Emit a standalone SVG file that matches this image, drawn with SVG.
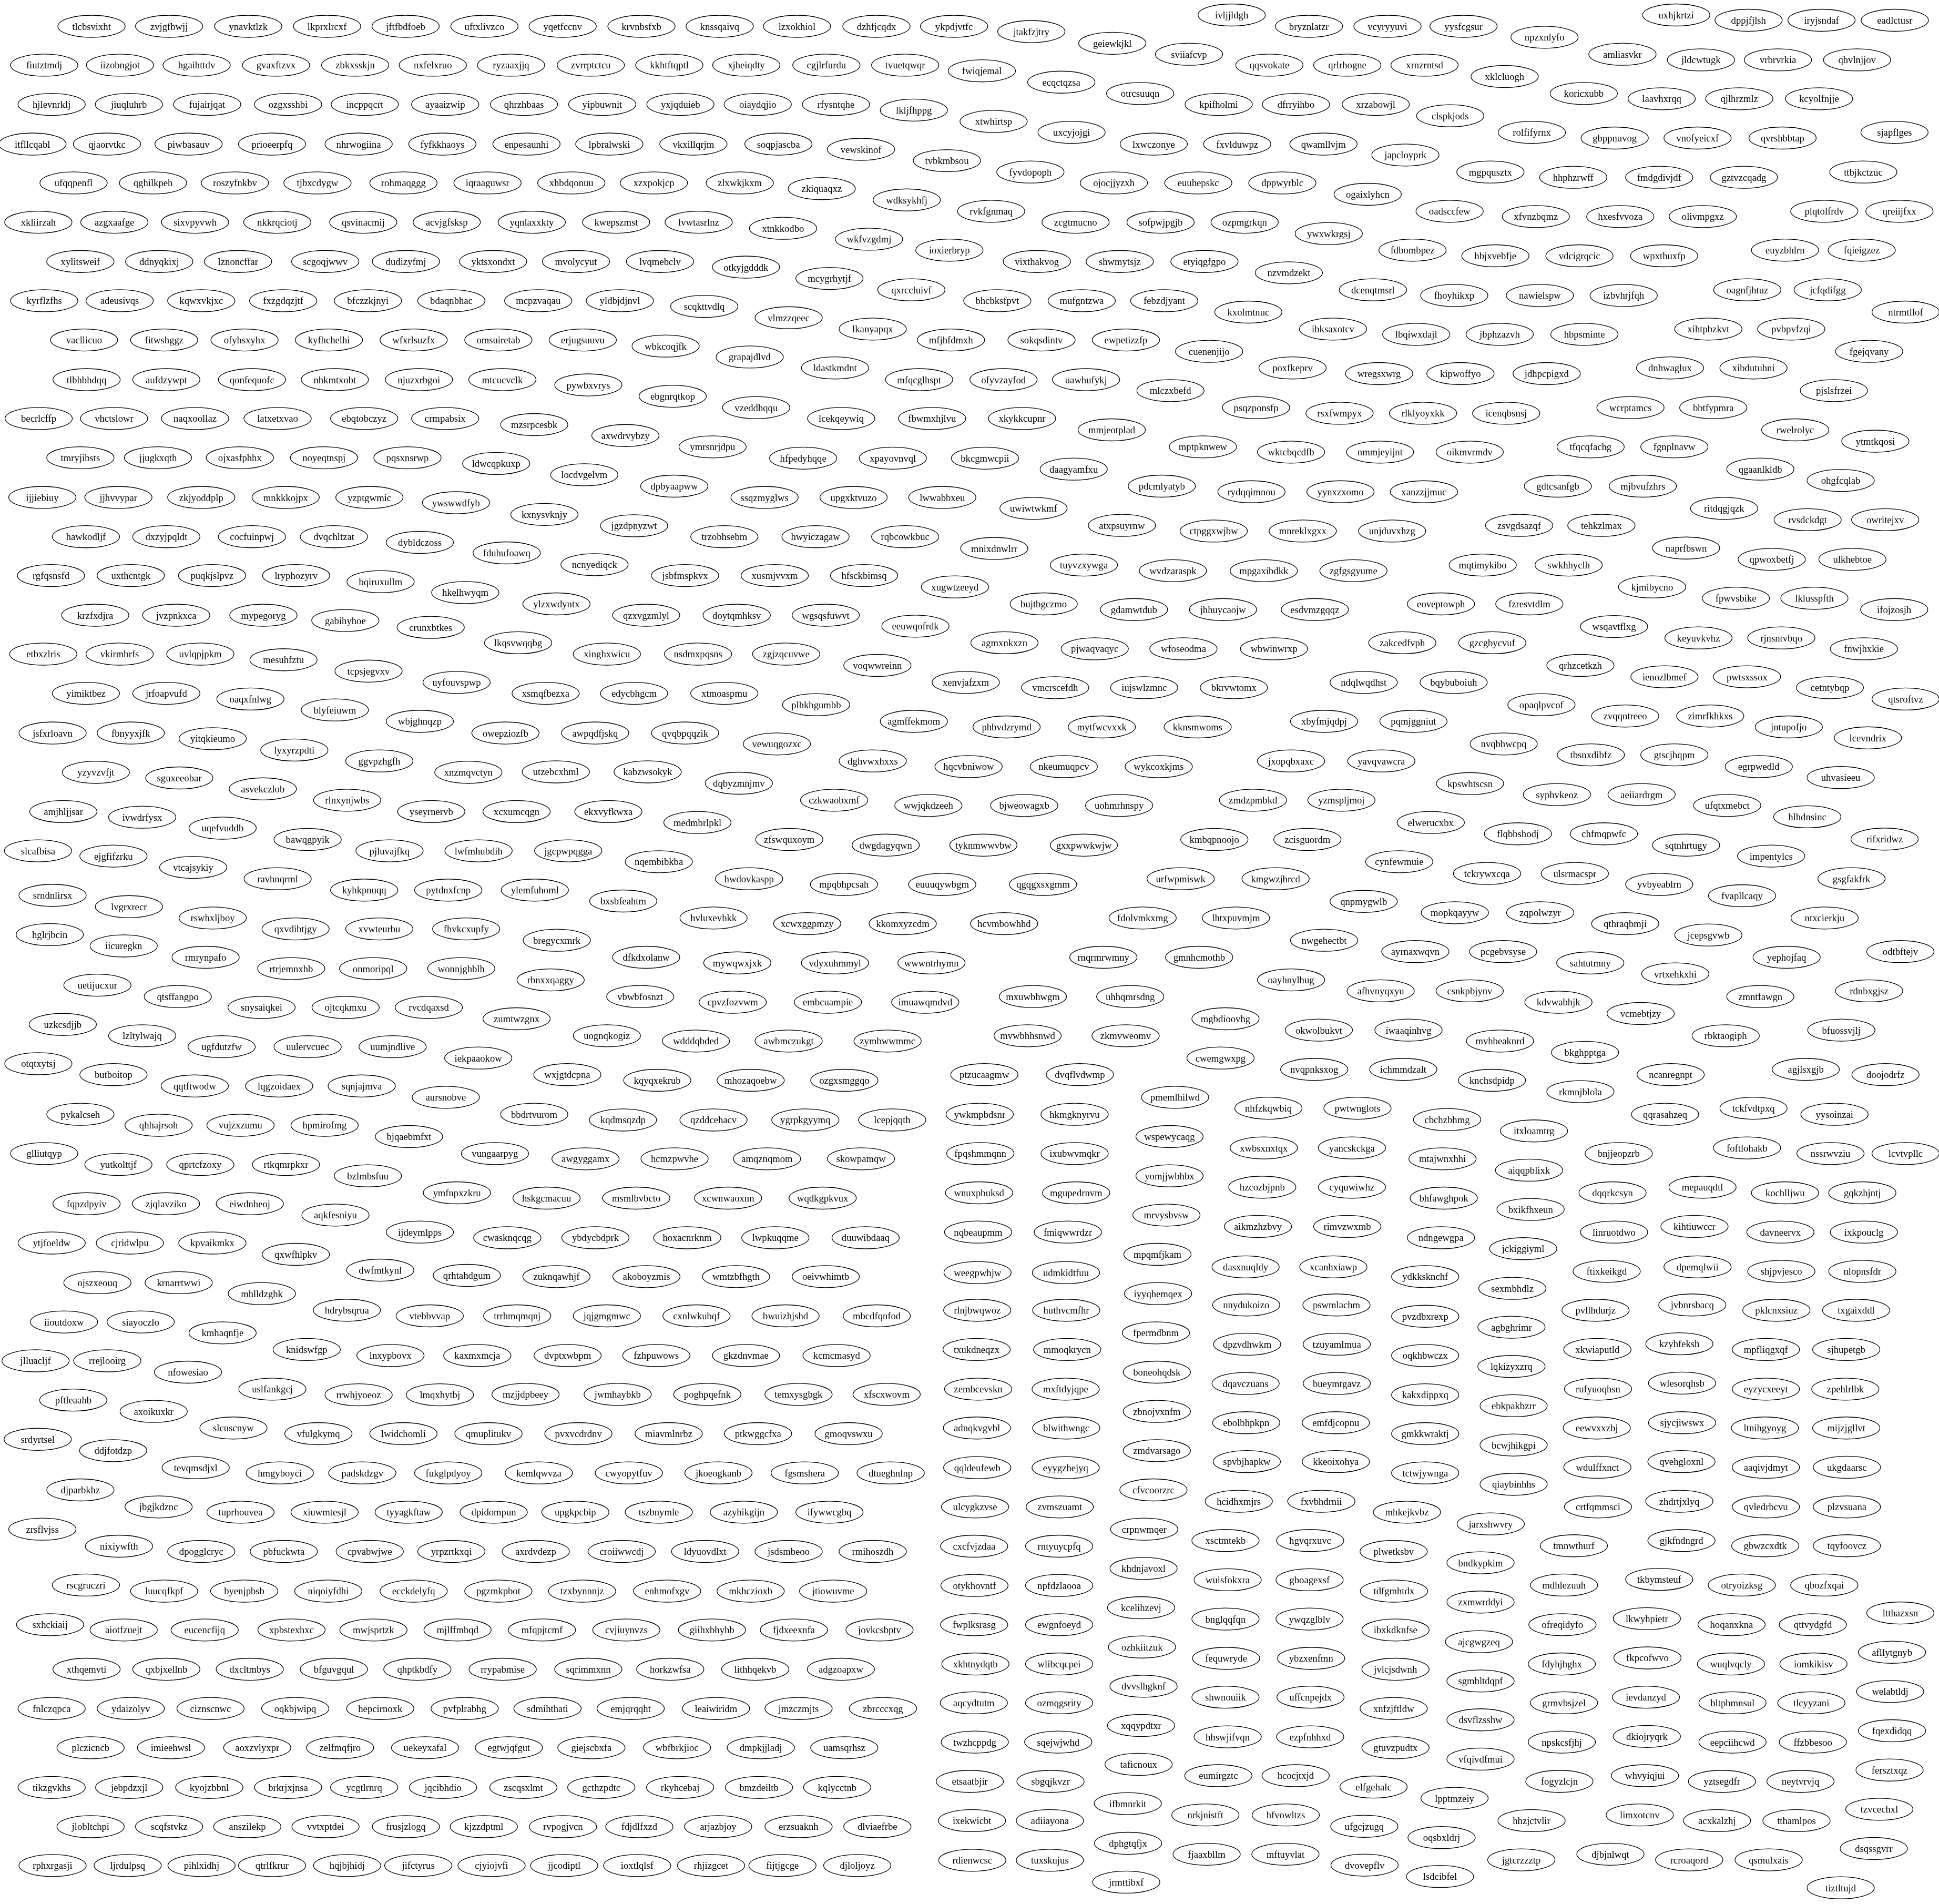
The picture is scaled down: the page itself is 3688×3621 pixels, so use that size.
<svg xmlns="http://www.w3.org/2000/svg" width="3688" height="3621" viewBox="0 0 3688 3621">
<style>
text{font-family:"Liberation Serif","Times New Roman",serif;font-size:18.67px;text-anchor:middle;dominant-baseline:central;fill:#000;transform:scale(1.7007,1.2991)}
</style>
<defs><ellipse id="e" rx="108.8" ry="27.3" fill="none" stroke="#000" stroke-width="1.33" vector-effect="non-scaling-stroke"/></defs>
<rect width="3688" height="3621" fill="#fff"/>
<g id="edges"/>
<g id="nodes" opacity="0.999">
<g id="blockA" transform="matrix(.58801 0 0 .76977 0 0)">
<g id="tlcbsvixht" transform="translate(296,65)"><use href="#e"/><text>tlcbsvixht</text></g>
<g id="zvjgfbwjj" transform="translate(547,65)"><use href="#e"/><text>zvjgfbwjj</text></g>
<g id="ynavktlzk" transform="translate(803,65)"><use href="#e"/><text>ynavktlzk</text></g>
<g id="lkprxlrcxf" transform="translate(1058,65)"><use href="#e"/><text>lkprxlrcxf</text></g>
<g id="jftfbdfoeb" transform="translate(1312,65)"><use href="#e"/><text>jftfbdfoeb</text></g>
<g id="fiutztmdj" transform="translate(143,161)"><use href="#e"/><text>fiutztmdj</text></g>
<g id="iizobngjot" transform="translate(388,161)"><use href="#e"/><text>iizobngjot</text></g>
<g id="hgaihttdv" transform="translate(636,161)"><use href="#e"/><text>hgaihttdv</text></g>
<g id="gvaxftzvx" transform="translate(893,161)"><use href="#e"/><text>gvaxftzvx</text></g>
<g id="zbkxsskjn" transform="translate(1149,161)"><use href="#e"/><text>zbkxsskjn</text></g>
<g id="nxfelxruo" transform="translate(1400,161)"><use href="#e"/><text>nxfelxruo</text></g>
<g id="hjlevnrklj" transform="translate(167,258)"><use href="#e"/><text>hjlevnrklj</text></g>
<g id="jiuqluhrb" transform="translate(417,258)"><use href="#e"/><text>jiuqluhrb</text></g>
<g id="fujairjqat" transform="translate(670,258)"><use href="#e"/><text>fujairjqat</text></g>
<g id="ozgxsshbi" transform="translate(932,258)"><use href="#e"/><text>ozgxsshbi</text></g>
<g id="incppqcrt" transform="translate(1180,258)"><use href="#e"/><text>incppqcrt</text></g>
<g id="ayaaizwip" transform="translate(1440,258)"><use href="#e"/><text>ayaaizwip</text></g>
<g id="itfllcqabl" transform="translate(105,356)"><use href="#e"/><text>itfllcqabl</text></g>
<g id="qjaorvtkc" transform="translate(346,356)"><use href="#e"/><text>qjaorvtkc</text></g>
<g id="piwbasauv" transform="translate(610,356)"><use href="#e"/><text>piwbasauv</text></g>
<g id="prioeerpfq" transform="translate(880,356)"><use href="#e"/><text>prioeerpfq</text></g>
<g id="nhrwogiina" transform="translate(1160,356)"><use href="#e"/><text>nhrwogiina</text></g>
<g id="fyfkkhaoys" transform="translate(1431,356)"><use href="#e"/><text>fyfkkhaoys</text></g>
<g id="ufqqpenfl" transform="translate(238,452)"><use href="#e"/><text>ufqqpenfl</text></g>
<g id="qghilkpeh" transform="translate(495,452)"><use href="#e"/><text>qghilkpeh</text></g>
<g id="roszyfnkbv" transform="translate(760,452)"><use href="#e"/><text>roszyfnkbv</text></g>
<g id="tjbxcdygw" transform="translate(1027,452)"><use href="#e"/><text>tjbxcdygw</text></g>
<g id="rohmaqggg" transform="translate(1305,452)"><use href="#e"/><text>rohmaqggg</text></g>
<g id="xkliirzah" transform="translate(124,549)"><use href="#e"/><text>xkliirzah</text></g>
<g id="azgxaafge" transform="translate(370,549)"><use href="#e"/><text>azgxaafge</text></g>
<g id="sixvpyvwh" transform="translate(631,549)"><use href="#e"/><text>sixvpyvwh</text></g>
<g id="nkkrqciotj" transform="translate(897,549)"><use href="#e"/><text>nkkrqciotj</text></g>
<g id="qsvinacmij" transform="translate(1175,549)"><use href="#e"/><text>qsvinacmij</text></g>
<g id="acvjgfsksp" transform="translate(1445,549)"><use href="#e"/><text>acvjgfsksp</text></g>
<g id="xylitsweif" transform="translate(260,646)"><use href="#e"/><text>xylitsweif</text></g>
<g id="ddnyqkixj" transform="translate(515,646)"><use href="#e"/><text>ddnyqkixj</text></g>
<g id="lznoncffar" transform="translate(770,646)"><use href="#e"/><text>lznoncffar</text></g>
<g id="scgoqjwwv" transform="translate(1052,646)"><use href="#e"/><text>scgoqjwwv</text></g>
<g id="dudizyfmj" transform="translate(1313,646)"><use href="#e"/><text>dudizyfmj</text></g>
<g id="kyrflzfhs" transform="translate(143,743)"><use href="#e"/><text>kyrflzfhs</text></g>
<g id="adeusivqs" transform="translate(387,743)"><use href="#e"/><text>adeusivqs</text></g>
<g id="kqwxvkjxc" transform="translate(651,743)"><use href="#e"/><text>kqwxvkjxc</text></g>
<g id="fxzgdqzjtf" transform="translate(916,743)"><use href="#e"/><text>fxzgdqzjtf</text></g>
<g id="bfczzkjnyi" transform="translate(1190,743)"><use href="#e"/><text>bfczzkjnyi</text></g>
<g id="bdaqnbhac" transform="translate(1460,743)"><use href="#e"/><text>bdaqnbhac</text></g>
<g id="vacllicuo" transform="translate(272,840)"><use href="#e"/><text>vacllicuo</text></g>
<g id="fitwshggz" transform="translate(531,840)"><use href="#e"/><text>fitwshggz</text></g>
<g id="ofyhsxyhx" transform="translate(791,840)"><use href="#e"/><text>ofyhsxyhx</text></g>
<g id="kyfhchelhi" transform="translate(1064,840)"><use href="#e"/><text>kyfhchelhi</text></g>
<g id="wfxrlsuzfx" transform="translate(1338,840)"><use href="#e"/><text>wfxrlsuzfx</text></g>
<g id="tlbhbhdqq" transform="translate(280,938)"><use href="#e"/><text>tlbhbhdqq</text></g>
<g id="aufdzywpt" transform="translate(538,938)"><use href="#e"/><text>aufdzywpt</text></g>
<g id="qonfequofc" transform="translate(815,938)"><use href="#e"/><text>qonfequofc</text></g>
<g id="nhkmtxobt" transform="translate(1083,938)"><use href="#e"/><text>nhkmtxobt</text></g>
<g id="njuzxrbgoi" transform="translate(1355,938)"><use href="#e"/><text>njuzxrbgoi</text></g>
<g id="becrlcffp" transform="translate(125,1034)"><use href="#e"/><text>becrlcffp</text></g>
<g id="vhctslowr" transform="translate(369,1034)"><use href="#e"/><text>vhctslowr</text></g>
<g id="naqxoollaz" transform="translate(631,1034)"><use href="#e"/><text>naqxoollaz</text></g>
<g id="latxetxvao" transform="translate(898,1034)"><use href="#e"/><text>latxetxvao</text></g>
<g id="ebqtobczyz" transform="translate(1178,1034)"><use href="#e"/><text>ebqtobczyz</text></g>
<g id="crmpabsix" transform="translate(1440,1034)"><use href="#e"/><text>crmpabsix</text></g>
<g id="tmryjibsts" transform="translate(260,1131)"><use href="#e"/><text>tmryjibsts</text></g>
<g id="jjugkxqth" transform="translate(511,1131)"><use href="#e"/><text>jjugkxqth</text></g>
<g id="ojxasfphhx" transform="translate(776,1131)"><use href="#e"/><text>ojxasfphhx</text></g>
<g id="noyeqtnspj" transform="translate(1048,1131)"><use href="#e"/><text>noyeqtnspj</text></g>
<g id="pqsxnsrwp" transform="translate(1318,1131)"><use href="#e"/><text>pqsxnsrwp</text></g>
<g id="ijjiebiuy" transform="translate(137,1229)"><use href="#e"/><text>ijjiebiuy</text></g>
<g id="jjhvvypar" transform="translate(383,1229)"><use href="#e"/><text>jjhvvypar</text></g>
<g id="zkjyoddplp" transform="translate(651,1229)"><use href="#e"/><text>zkjyoddplp</text></g>
<g id="mnkkkojpx" transform="translate(924,1229)"><use href="#e"/><text>mnkkkojpx</text></g>
<g id="yzptgwmic" transform="translate(1195,1229)"><use href="#e"/><text>yzptgwmic</text></g>
<g id="ywswwdfyb" transform="translate(1475,1242)"><use href="#e"/><text>ywswwdfyb</text></g>
<g id="hawkodljf" transform="translate(278,1326)"><use href="#e"/><text>hawkodljf</text></g>
<g id="dxzyjpqldt" transform="translate(538,1326)"><use href="#e"/><text>dxzyjpqldt</text></g>
<g id="cocfuinpwj" transform="translate(815,1326)"><use href="#e"/><text>cocfuinpwj</text></g>
<g id="dvqchltzat" transform="translate(1080,1326)"><use href="#e"/><text>dvqchltzat</text></g>
<g id="dybldczoss" transform="translate(1358,1340)"><use href="#e"/><text>dybldczoss</text></g>
<g id="rgfqsnsfd" transform="translate(165,1422)"><use href="#e"/><text>rgfqsnsfd</text></g>
<g id="uxthcntgk" transform="translate(423,1422)"><use href="#e"/><text>uxthcntgk</text></g>
<g id="puqkjslpvz" transform="translate(686,1422)"><use href="#e"/><text>puqkjslpvz</text></g>
<g id="lryphozyrv" transform="translate(958,1422)"><use href="#e"/><text>lryphozyrv</text></g>
<g id="bqiruxullm" transform="translate(1231,1437)"><use href="#e"/><text>bqiruxullm</text></g>
<g id="hkelhwyqm" transform="translate(1505,1464)"><use href="#e"/><text>hkelhwyqm</text></g>
<g id="krzfxdjra" transform="translate(308,1520)"><use href="#e"/><text>krzfxdjra</text></g>
<g id="jvzpnkxca" transform="translate(570,1520)"><use href="#e"/><text>jvzpnkxca</text></g>
<g id="mypegoryg" transform="translate(852,1520)"><use href="#e"/><text>mypegoryg</text></g>
<g id="gabihyhoe" transform="translate(1117,1533)"><use href="#e"/><text>gabihyhoe</text></g>
<g id="crunxbtkes" transform="translate(1393,1550)"><use href="#e"/><text>crunxbtkes</text></g>
</g>
<g id="blockB" transform="matrix(.58801 0 0 .76977 922 0)">
<g id="uftxlivzco" transform="translate(-1,65)"><use href="#e"/><text>uftxlivzco</text></g>
<g id="yqetfccnv" transform="translate(252,65)"><use href="#e"/><text>yqetfccnv</text></g>
<g id="krvnbsfxb" transform="translate(507,65)"><use href="#e"/><text>krvnbsfxb</text></g>
<g id="knssqaivq" transform="translate(760,65)"><use href="#e"/><text>knssqaivq</text></g>
<g id="lzxokhiol" transform="translate(1010,65)"><use href="#e"/><text>lzxokhiol</text></g>
<g id="dzhfjcqdx" transform="translate(1267,65)"><use href="#e"/><text>dzhfjcqdx</text></g>
<g id="ykpdjvtfc" transform="translate(1518,65)"><use href="#e"/><text>ykpdjvtfc</text></g>
<g id="ryzaaxjjq" transform="translate(85,161)"><use href="#e"/><text>ryzaaxjjq</text></g>
<g id="zvrrptctcu" transform="translate(343,161)"><use href="#e"/><text>zvrrptctcu</text></g>
<g id="kkhtftqptl" transform="translate(597,161)"><use href="#e"/><text>kkhtftqptl</text></g>
<g id="xjheiqdty" transform="translate(846,161)"><use href="#e"/><text>xjheiqdty</text></g>
<g id="cgjlrfurdu" transform="translate(1105,161)"><use href="#e"/><text>cgjlrfurdu</text></g>
<g id="tvuetqwqr" transform="translate(1360,161)"><use href="#e"/><text>tvuetqwqr</text></g>
<g id="qhrzhbaas" transform="translate(127,258)"><use href="#e"/><text>qhrzhbaas</text></g>
<g id="yipbuwnit" transform="translate(380,258)"><use href="#e"/><text>yipbuwnit</text></g>
<g id="yxjqduieb" transform="translate(633,258)"><use href="#e"/><text>yxjqduieb</text></g>
<g id="oiaydqjio" transform="translate(883,258)"><use href="#e"/><text>oiaydqjio</text></g>
<g id="rfysntqhe" transform="translate(1136,258)"><use href="#e"/><text>rfysntqhe</text></g>
<g id="lkljfhppg" transform="translate(1388,272)"><use href="#e"/><text>lkljfhppg</text></g>
<g id="enpesaunhi" transform="translate(135,356)"><use href="#e"/><text>enpesaunhi</text></g>
<g id="lpbralwski" transform="translate(403,356)"><use href="#e"/><text>lpbralwski</text></g>
<g id="vkxillqrjm" transform="translate(675,356)"><use href="#e"/><text>vkxillqrjm</text></g>
<g id="soqpjascba" transform="translate(950,356)"><use href="#e"/><text>soqpjascba</text></g>
<g id="vewskinof" transform="translate(1217,369)"><use href="#e"/><text>vewskinof</text></g>
<g id="tvbkmbsou" transform="translate(1495,397)"><use href="#e"/><text>tvbkmbsou</text></g>
<g id="iqraaguwsr" transform="translate(9,452)"><use href="#e"/><text>iqraaguwsr</text></g>
<g id="xhbdqonuu" transform="translate(280,452)"><use href="#e"/><text>xhbdqonuu</text></g>
<g id="xzxpokjcp" transform="translate(547,452)"><use href="#e"/><text>xzxpokjcp</text></g>
<g id="zlxwkjkxm" transform="translate(825,452)"><use href="#e"/><text>zlxwkjkxm</text></g>
<g id="zkiquaqxz" transform="translate(1090,466)"><use href="#e"/><text>zkiquaqxz</text></g>
<g id="wdksykhfj" transform="translate(1365,494)"><use href="#e"/><text>wdksykhfj</text></g>
<g id="yqnlaxxkty" transform="translate(152,549)"><use href="#e"/><text>yqnlaxxkty</text></g>
<g id="kwepszmst" transform="translate(425,549)"><use href="#e"/><text>kwepszmst</text></g>
<g id="lvwtasrlnz" transform="translate(692,549)"><use href="#e"/><text>lvwtasrlnz</text></g>
<g id="xtnkkodbo" transform="translate(965,564)"><use href="#e"/><text>xtnkkodbo</text></g>
<g id="wkfvzgdmj" transform="translate(1243,591)"><use href="#e"/><text>wkfvzgdmj</text></g>
<g id="ioxierbryp" transform="translate(1503,618)"><use href="#e"/><text>ioxierbryp</text></g>
<g id="yktsxondxt" transform="translate(27,646)"><use href="#e"/><text>yktsxondxt</text></g>
<g id="mvolycyut" transform="translate(295,646)"><use href="#e"/><text>mvolycyut</text></g>
<g id="lvqmebclv" transform="translate(567,646)"><use href="#e"/><text>lvqmebclv</text></g>
<g id="otkyjgdddk" transform="translate(845,660)"><use href="#e"/><text>otkyjgdddk</text></g>
<g id="mcygrhytjf" transform="translate(1115,688)"><use href="#e"/><text>mcygrhytjf</text></g>
<g id="qxrccluivf" transform="translate(1380,716)"><use href="#e"/><text>qxrccluivf</text></g>
<g id="mcpzvaqau" transform="translate(173,743)"><use href="#e"/><text>mcpzvaqau</text></g>
<g id="yldbjdjnvl" transform="translate(437,743)"><use href="#e"/><text>yldbjdjnvl</text></g>
<g id="scqkttvdlq" transform="translate(710,757)"><use href="#e"/><text>scqkttvdlq</text></g>
<g id="vlmzzqeec" transform="translate(983,785)"><use href="#e"/><text>vlmzzqeec</text></g>
<g id="lkanyapqx" transform="translate(1255,813)"><use href="#e"/><text>lkanyapqx</text></g>
<g id="mfjhfdmxh" transform="translate(1508,840)"><use href="#e"/><text>mfjhfdmxh</text></g>
<g id="omsuiretab" transform="translate(44,840)"><use href="#e"/><text>omsuiretab</text></g>
<g id="erjugsuuvu" transform="translate(317,840)"><use href="#e"/><text>erjugsuuvu</text></g>
<g id="wbkcoqjfk" transform="translate(585,855)"><use href="#e"/><text>wbkcoqjfk</text></g>
<g id="grapajdlvd" transform="translate(857,882)"><use href="#e"/><text>grapajdlvd</text></g>
<g id="ldastkmdnt" transform="translate(1133,909)"><use href="#e"/><text>ldastkmdnt</text></g>
<g id="mfqcglhspt" transform="translate(1405,938)"><use href="#e"/><text>mfqcglhspt</text></g>
<g id="mtcucvclk" transform="translate(57,938)"><use href="#e"/><text>mtcucvclk</text></g>
<g id="pywbxvrys" transform="translate(335,951)"><use href="#e"/><text>pywbxvrys</text></g>
<g id="ebgnrqtkop" transform="translate(608,979)"><use href="#e"/><text>ebgnrqtkop</text></g>
<g id="vzeddhqqu" transform="translate(878,1007)"><use href="#e"/><text>vzeddhqqu</text></g>
<g id="lcekqeywiq" transform="translate(1153,1034)"><use href="#e"/><text>lcekqeywiq</text></g>
<g id="fbwmxhjlvu" transform="translate(1447,1034)"><use href="#e"/><text>fbwmxhjlvu</text></g>
<g id="mzsrpcesbk" transform="translate(160,1049)"><use href="#e"/><text>mzsrpcesbk</text></g>
<g id="axwdrvybzy" transform="translate(455,1076)"><use href="#e"/><text>axwdrvybzy</text></g>
<g id="ymrsnrjdpu" transform="translate(737,1104)"><use href="#e"/><text>ymrsnrjdpu</text></g>
<g id="hfpedyhqqe" transform="translate(1030,1132)"><use href="#e"/><text>hfpedyhqqe</text></g>
<g id="xpayovnvql" transform="translate(1320,1132)"><use href="#e"/><text>xpayovnvql</text></g>
<g id="ldwcqpkuxp" transform="translate(37,1145)"><use href="#e"/><text>ldwcqpkuxp</text></g>
<g id="locdvgelvm" transform="translate(322,1173)"><use href="#e"/><text>locdvgelvm</text></g>
<g id="dpbyaapww" transform="translate(613,1201)"><use href="#e"/><text>dpbyaapww</text></g>
<g id="ssqzmyglws" transform="translate(905,1229)"><use href="#e"/><text>ssqzmyglws</text></g>
<g id="upgxktvuzo" transform="translate(1193,1229)"><use href="#e"/><text>upgxktvuzo</text></g>
<g id="lwwabbxeu" transform="translate(1480,1229)"><use href="#e"/><text>lwwabbxeu</text></g>
<g id="kxnysvknjy" transform="translate(193,1271)"><use href="#e"/><text>kxnysvknjy</text></g>
<g id="jgzdpnyzwt" transform="translate(483,1299)"><use href="#e"/><text>jgzdpnyzwt</text></g>
<g id="trzobhsebm" transform="translate(775,1326)"><use href="#e"/><text>trzobhsebm</text></g>
<g id="hwyiczagaw" transform="translate(1070,1326)"><use href="#e"/><text>hwyiczagaw</text></g>
<g id="rqbcowkbuc" transform="translate(1360,1326)"><use href="#e"/><text>rqbcowkbuc</text></g>
<g id="fduhufoawq" transform="translate(71,1366)"><use href="#e"/><text>fduhufoawq</text></g>
<g id="ncnyediqck" transform="translate(355,1395)"><use href="#e"/><text>ncnyediqck</text></g>
<g id="jsbfmspkvx" transform="translate(648,1422)"><use href="#e"/><text>jsbfmspkvx</text></g>
<g id="xusmjvvxm" transform="translate(938,1422)"><use href="#e"/><text>xusmjvvxm</text></g>
<g id="hfsckbimsq" transform="translate(1227,1422)"><use href="#e"/><text>hfsckbimsq</text></g>
<g id="xugwtzeeyd" transform="translate(1521,1450)"><use href="#e"/><text>xugwtzeeyd</text></g>
<g id="ylzxwdyntx" transform="translate(232,1492)"><use href="#e"/><text>ylzxwdyntx</text></g>
<g id="qzxvgzmlyl" transform="translate(522,1520)"><use href="#e"/><text>qzxvgzmlyl</text></g>
<g id="doytqmhksv" transform="translate(815,1520)"><use href="#e"/><text>doytqmhksv</text></g>
<g id="wgsqsfuwvt" transform="translate(1103,1520)"><use href="#e"/><text>wgsqsfuwvt</text></g>
<g id="eeuwqofrdk" transform="translate(1393,1547)"><use href="#e"/><text>eeuwqofrdk</text></g>
</g>
<g id="blockC" transform="matrix(.58801 0 0 .76977 1844 0)">
<g id="jtakfzjtry" transform="translate(200,78)"><use href="#e"/><text>jtakfzjtry</text></g>
<g id="geiewkjkl" transform="translate(462,107)"><use href="#e"/><text>geiewkjkl</text></g>
<g id="sviiafcvp" transform="translate(710,134)"><use href="#e"/><text>sviiafcvp</text></g>
<g id="ivljjldgh" transform="translate(848,37)"><use href="#e"/><text>ivljjldgh</text></g>
<g id="bryznlatzr" transform="translate(1098,65)"><use href="#e"/><text>bryznlatzr</text></g>
<g id="vcyryyuvi" transform="translate(1352,65)"><use href="#e"/><text>vcyryyuvi</text></g>
<g id="fwiqjemal" transform="translate(40,175)"><use href="#e"/><text>fwiqjemal</text></g>
<g id="ecqctqzsa" transform="translate(297,203)"><use href="#e"/><text>ecqctqzsa</text></g>
<g id="otrcsuuqn" transform="translate(552,231)"><use href="#e"/><text>otrcsuuqn</text></g>
<g id="qqsvokate" transform="translate(970,161)"><use href="#e"/><text>qqsvokate</text></g>
<g id="qrlrhogne" transform="translate(1222,161)"><use href="#e"/><text>qrlrhogne</text></g>
<g id="xrnzrntsd" transform="translate(1472,161)"><use href="#e"/><text>xrnzrntsd</text></g>
<g id="xtwhirtsp" transform="translate(78,300)"><use href="#e"/><text>xtwhirtsp</text></g>
<g id="uxcyjojgi" transform="translate(330,327)"><use href="#e"/><text>uxcyjojgi</text></g>
<g id="kpifholmi" transform="translate(806,258)"><use href="#e"/><text>kpifholmi</text></g>
<g id="dfrryihbo" transform="translate(1056,258)"><use href="#e"/><text>dfrryihbo</text></g>
<g id="xrzabowjl" transform="translate(1314,258)"><use href="#e"/><text>xrzabowjl</text></g>
<g id="clspkjods" transform="translate(1555,286)"><use href="#e"/><text>clspkjods</text></g>
<g id="lxwczonye" transform="translate(596,356)"><use href="#e"/><text>lxwczonye</text></g>
<g id="fxvlduwpz" transform="translate(866,356)"><use href="#e"/><text>fxvlduwpz</text></g>
<g id="qwamllvjm" transform="translate(1145,356)"><use href="#e"/><text>qwamllvjm</text></g>
<g id="japcloyprk" transform="translate(1410,383)"><use href="#e"/><text>japcloyprk</text></g>
<g id="fyvdopoph" transform="translate(197,425)"><use href="#e"/><text>fyvdopoph</text></g>
<g id="ojocjjyzxh" transform="translate(467,452)"><use href="#e"/><text>ojocjjyzxh</text></g>
<g id="euuhepskc" transform="translate(740,452)"><use href="#e"/><text>euuhepskc</text></g>
<g id="dppwyrblc" transform="translate(1012,452)"><use href="#e"/><text>dppwyrblc</text></g>
<g id="ogaixlyhcn" transform="translate(1288,480)"><use href="#e"/><text>ogaixlyhcn</text></g>
<g id="rvkfgnmaq" transform="translate(70,522)"><use href="#e"/><text>rvkfgnmaq</text></g>
<g id="zcgtmucno" transform="translate(343,549)"><use href="#e"/><text>zcgtmucno</text></g>
<g id="sofpwjpgjb" transform="translate(618,549)"><use href="#e"/><text>sofpwjpgjb</text></g>
<g id="ozpmgrkqn" transform="translate(890,549)"><use href="#e"/><text>ozpmgrkqn</text></g>
<g id="ywxwkrgsj" transform="translate(1162,577)"><use href="#e"/><text>ywxwkrgsj</text></g>
<g id="oadsccfew" transform="translate(1553,522)"><use href="#e"/><text>oadsccfew</text></g>
<g id="vixthakvog" transform="translate(218,646)"><use href="#e"/><text>vixthakvog</text></g>
<g id="shwmytsjz" transform="translate(486,646)"><use href="#e"/><text>shwmytsjz</text></g>
<g id="etyiqgfgpo" transform="translate(760,646)"><use href="#e"/><text>etyiqgfgpo</text></g>
<g id="nzvmdzekt" transform="translate(1033,674)"><use href="#e"/><text>nzvmdzekt</text></g>
<g id="fdbombpez" transform="translate(1433,618)"><use href="#e"/><text>fdbombpez</text></g>
<g id="bhcbksfpvt" transform="translate(90,743)"><use href="#e"/><text>bhcbksfpvt</text></g>
<g id="mufgntzwa" transform="translate(363,743)"><use href="#e"/><text>mufgntzwa</text></g>
<g id="febzdjyant" transform="translate(630,743)"><use href="#e"/><text>febzdjyant</text></g>
<g id="kxolmtnuc" transform="translate(902,771)"><use href="#e"/><text>kxolmtnuc</text></g>
<g id="dcenqtmsrl" transform="translate(1305,716)"><use href="#e"/><text>dcenqtmsrl</text></g>
<g id="sokqsdintv" transform="translate(233,840)"><use href="#e"/><text>sokqsdintv</text></g>
<g id="ewpetizzfp" transform="translate(506,840)"><use href="#e"/><text>ewpetizzfp</text></g>
<g id="cuenenjijo" transform="translate(775,868)"><use href="#e"/><text>cuenenjijo</text></g>
<g id="ibksaxotcv" transform="translate(1176,813)"><use href="#e"/><text>ibksaxotcv</text></g>
<g id="lbqiwxdajl" transform="translate(1445,826)"><use href="#e"/><text>lbqiwxdajl</text></g>
<g id="ofyvzayfod" transform="translate(110,938)"><use href="#e"/><text>ofyvzayfod</text></g>
<g id="uawhufykj" transform="translate(377,938)"><use href="#e"/><text>uawhufykj</text></g>
<g id="mlczxbefd" transform="translate(650,965)"><use href="#e"/><text>mlczxbefd</text></g>
<g id="poxfkeprv" transform="translate(1045,909)"><use href="#e"/><text>poxfkeprv</text></g>
<g id="wregsxwrg" transform="translate(1325,923)"><use href="#e"/><text>wregsxwrg</text></g>
<g id="xkykkcupnr" transform="translate(170,1034)"><use href="#e"/><text>xkykkcupnr</text></g>
<g id="mmjeotplad" transform="translate(460,1062)"><use href="#e"/><text>mmjeotplad</text></g>
<g id="psqzponsfp" transform="translate(927,1007)"><use href="#e"/><text>psqzponsfp</text></g>
<g id="rsxfwmpyx" transform="translate(1197,1021)"><use href="#e"/><text>rsxfwmpyx</text></g>
<g id="rlklyoyxkk" transform="translate(1467,1021)"><use href="#e"/><text>rlklyoyxkk</text></g>
<g id="bkcgmwcpii" transform="translate(50,1132)"><use href="#e"/><text>bkcgmwcpii</text></g>
<g id="daagyamfxu" transform="translate(337,1159)"><use href="#e"/><text>daagyamfxu</text></g>
<g id="mptpknwew" transform="translate(755,1104)"><use href="#e"/><text>mptpknwew</text></g>
<g id="wktcbqcdfb" transform="translate(1040,1117)"><use href="#e"/><text>wktcbqcdfb</text></g>
<g id="nmmjeyijnt" transform="translate(1328,1117)"><use href="#e"/><text>nmmjeyijnt</text></g>
<g id="uwiwtwkmf" transform="translate(207,1256)"><use href="#e"/><text>uwiwtwkmf</text></g>
<g id="pdcmlyatyb" transform="translate(622,1201)"><use href="#e"/><text>pdcmlyatyb</text></g>
<g id="rydqqimnou" transform="translate(912,1215)"><use href="#e"/><text>rydqqimnou</text></g>
<g id="yynxzxomo" transform="translate(1200,1215)"><use href="#e"/><text>yynxzxomo</text></g>
<g id="xanzzjjmuc" transform="translate(1470,1215)"><use href="#e"/><text>xanzzjjmuc</text></g>
<g id="mnixdnwlrr" transform="translate(80,1355)"><use href="#e"/><text>mnixdnwlrr</text></g>
<g id="atxpsuyrnw" transform="translate(493,1298)"><use href="#e"/><text>atxpsuyrnw</text></g>
<g id="ctpggxwjbw" transform="translate(790,1312)"><use href="#e"/><text>ctpggxwjbw</text></g>
<g id="mnreklxgxx" transform="translate(1078,1312)"><use href="#e"/><text>mnreklxgxx</text></g>
<g id="unjduvxhzg" transform="translate(1367,1312)"><use href="#e"/><text>unjduvxhzg</text></g>
<g id="tuyvzxywga" transform="translate(370,1396)"><use href="#e"/><text>tuyvzxywga</text></g>
<g id="wvdzaraspk" transform="translate(658,1410)"><use href="#e"/><text>wvdzaraspk</text></g>
<g id="mpgaxibdkk" transform="translate(952,1410)"><use href="#e"/><text>mpgaxibdkk</text></g>
<g id="zgfgsgyume" transform="translate(1242,1410)"><use href="#e"/><text>zgfgsgyume</text></g>
<g id="bujtbgczmo" transform="translate(240,1492)"><use href="#e"/><text>bujtbgczmo</text></g>
<g id="gdamwtdub" transform="translate(532,1506)"><use href="#e"/><text>gdamwtdub</text></g>
<g id="jhhuycaojw" transform="translate(820,1506)"><use href="#e"/><text>jhhuycaojw</text></g>
<g id="esdvmzgqqz" transform="translate(1117,1506)"><use href="#e"/><text>esdvmzgqqz</text></g>
<g id="eoveptowph" transform="translate(1525,1492)"><use href="#e"/><text>eoveptowph</text></g>
</g>
<g id="blockD" transform="matrix(.58801 0 0 .76977 2766 0)">
<g id="yysfcgsur" transform="translate(30,65)"><use href="#e"/><text>yysfcgsur</text></g>
<g id="npzxnlyfo" transform="translate(292,92)"><use href="#e"/><text>npzxnlyfo</text></g>
<g id="amliasvkr" transform="translate(544,134)"><use href="#e"/><text>amliasvkr</text></g>
<g id="uxhjkrtzi" transform="translate(718,37)"><use href="#e"/><text>uxhjkrtzi</text></g>
<g id="dppjfjlsh" transform="translate(952,50)"><use href="#e"/><text>dppjfjlsh</text></g>
<g id="iryjsndaf" transform="translate(1188,50)"><use href="#e"/><text>iryjsndaf</text></g>
<g id="eadlctusr" transform="translate(1425,50)"><use href="#e"/><text>eadlctusr</text></g>
<g id="xklcluogh" transform="translate(163,189)"><use href="#e"/><text>xklcluogh</text></g>
<g id="koricxubb" transform="translate(419,231)"><use href="#e"/><text>koricxubb</text></g>
<g id="jldcwtugk" transform="translate(798,148)"><use href="#e"/><text>jldcwtugk</text></g>
<g id="vrbrvrkia" transform="translate(1047,148)"><use href="#e"/><text>vrbrvrkia</text></g>
<g id="qhvlnjjov" transform="translate(1303,148)"><use href="#e"/><text>qhvlnjjov</text></g>
<g id="laavhxrqq" transform="translate(671,244)"><use href="#e"/><text>laavhxrqq</text></g>
<g id="qjlhrzmlz" transform="translate(922,244)"><use href="#e"/><text>qjlhrzmlz</text></g>
<g id="kcyolfnjje" transform="translate(1180,244)"><use href="#e"/><text>kcyolfnjje</text></g>
<g id="rolfifyrnx" transform="translate(251,327)"><use href="#e"/><text>rolfifyrnx</text></g>
<g id="gbppnuvog" transform="translate(519,341)"><use href="#e"/><text>gbppnuvog</text></g>
<g id="vnofyeicxf" transform="translate(787,341)"><use href="#e"/><text>vnofyeicxf</text></g>
<g id="qvrshbbtap" transform="translate(1062,341)"><use href="#e"/><text>qvrshbbtap</text></g>
<g id="sjapflges" transform="translate(1424,327)"><use href="#e"/><text>sjapflges</text></g>
<g id="mgpqusztx" transform="translate(117,425)"><use href="#e"/><text>mgpqusztx</text></g>
<g id="hhphzrwff" transform="translate(385,438)"><use href="#e"/><text>hhphzrwff</text></g>
<g id="fmdgdivjdf" transform="translate(663,438)"><use href="#e"/><text>fmdgdivjdf</text></g>
<g id="gztvzcqadg" transform="translate(937,438)"><use href="#e"/><text>gztvzcqadg</text></g>
<g id="ttbjkctzuc" transform="translate(1323,425)"><use href="#e"/><text>ttbjkctzuc</text></g>
<g id="xfvnzbqmz" transform="translate(264,535)"><use href="#e"/><text>xfvnzbqmz</text></g>
<g id="hxesfvvoza" transform="translate(537,535)"><use href="#e"/><text>hxesfvvoza</text></g>
<g id="olivmpgxz" transform="translate(804,535)"><use href="#e"/><text>olivmpgxz</text></g>
<g id="plqtolfrdv" transform="translate(1197,522)"><use href="#e"/><text>plqtolfrdv</text></g>
<g id="qreiijfxx" transform="translate(1440,522)"><use href="#e"/><text>qreiijfxx</text></g>
<g id="hbjxvebfje" transform="translate(133,632)"><use href="#e"/><text>hbjxvebfje</text></g>
<g id="vdcigrqcic" transform="translate(405,632)"><use href="#e"/><text>vdcigrqcic</text></g>
<g id="wpxthuxfp" transform="translate(679,632)"><use href="#e"/><text>wpxthuxfp</text></g>
<g id="euyzbhlrn" transform="translate(1070,618)"><use href="#e"/><text>euyzbhlrn</text></g>
<g id="fqieigzez" transform="translate(1318,618)"><use href="#e"/><text>fqieigzez</text></g>
<g id="fhoyhikxp" transform="translate(0,730)"><use href="#e"/><text>fhoyhikxp</text></g>
<g id="nawielspw" transform="translate(277,730)"><use href="#e"/><text>nawielspw</text></g>
<g id="izbvhrjfqh" transform="translate(548,730)"><use href="#e"/><text>izbvhrjfqh</text></g>
<g id="oagnfjhtuz" transform="translate(948,716)"><use href="#e"/><text>oagnfjhtuz</text></g>
<g id="jcfqdifgg" transform="translate(1208,716)"><use href="#e"/><text>jcfqdifgg</text></g>
<g id="ntrmtllof" transform="translate(1460,771)"><use href="#e"/><text>ntrmtllof</text></g>
<g id="jbphzazvh" transform="translate(147,826)"><use href="#e"/><text>jbphzazvh</text></g>
<g id="hbpsminte" transform="translate(421,826)"><use href="#e"/><text>hbpsminte</text></g>
<g id="xihtpbzkvt" transform="translate(822,813)"><use href="#e"/><text>xihtpbzkvt</text></g>
<g id="pvbpvfzqi" transform="translate(1090,813)"><use href="#e"/><text>pvbpvfzqi</text></g>
<g id="fgejqvany" transform="translate(1342,868)"><use href="#e"/><text>fgejqvany</text></g>
<g id="kipwoffyo" transform="translate(20,923)"><use href="#e"/><text>kipwoffyo</text></g>
<g id="jdhpcpigxd" transform="translate(299,923)"><use href="#e"/><text>jdhpcpigxd</text></g>
<g id="dnhwaglux" transform="translate(698,909)"><use href="#e"/><text>dnhwaglux</text></g>
<g id="xibdutuhni" transform="translate(968,909)"><use href="#e"/><text>xibdutuhni</text></g>
<g id="pjslsfrzei" transform="translate(1228,965)"><use href="#e"/><text>pjslsfrzei</text></g>
<g id="icenqbsnsj" transform="translate(168,1021)"><use href="#e"/><text>icenqbsnsj</text></g>
<g id="wcrptamcs" transform="translate(570,1007)"><use href="#e"/><text>wcrptamcs</text></g>
<g id="bbtfypmra" transform="translate(838,1007)"><use href="#e"/><text>bbtfypmra</text></g>
<g id="rwelrolyc" transform="translate(1103,1062)"><use href="#e"/><text>rwelrolyc</text></g>
<g id="ytmtkqosi" transform="translate(1362,1090)"><use href="#e"/><text>ytmtkqosi</text></g>
<g id="oikmvrmdv" transform="translate(50,1117)"><use href="#e"/><text>oikmvrmdv</text></g>
<g id="tfqcqfachg" transform="translate(441,1104)"><use href="#e"/><text>tfqcqfachg</text></g>
<g id="fgnplnavw" transform="translate(712,1104)"><use href="#e"/><text>fgnplnavw</text></g>
<g id="qgaanlkldb" transform="translate(990,1159)"><use href="#e"/><text>qgaanlkldb</text></g>
<g id="ohgfcqlab" transform="translate(1250,1187)"><use href="#e"/><text>ohgfcqlab</text></g>
<g id="gdtcsanfgb" transform="translate(335,1201)"><use href="#e"/><text>gdtcsanfgb</text></g>
<g id="mjbvufzhrs" transform="translate(610,1201)"><use href="#e"/><text>mjbvufzhrs</text></g>
<g id="ritdqgjqzk" transform="translate(873,1256)"><use href="#e"/><text>ritdqgjqzk</text></g>
<g id="rvsdckdgt" transform="translate(1143,1284)"><use href="#e"/><text>rvsdckdgt</text></g>
<g id="owritejxv" transform="translate(1394,1284)"><use href="#e"/><text>owritejxv</text></g>
<g id="zsvgdsazqf" transform="translate(210,1298)"><use href="#e"/><text>zsvgdsazqf</text></g>
<g id="tehkzlmax" transform="translate(476,1298)"><use href="#e"/><text>tehkzlmax</text></g>
<g id="naprfbswn" transform="translate(750,1354)"><use href="#e"/><text>naprfbswn</text></g>
<g id="qpwoxbetfj" transform="translate(1027,1382)"><use href="#e"/><text>qpwoxbetfj</text></g>
<g id="ulkhebtoe" transform="translate(1288,1382)"><use href="#e"/><text>ulkhebtoe</text></g>
<g id="mqtimykibo" transform="translate(92,1396)"><use href="#e"/><text>mqtimykibo</text></g>
<g id="swkhhyclh" transform="translate(370,1396)"><use href="#e"/><text>swkhhyclh</text></g>
<g id="kjmibycno" transform="translate(640,1450)"><use href="#e"/><text>kjmibycno</text></g>
<g id="fpwvsbike" transform="translate(911,1478)"><use href="#e"/><text>fpwvsbike</text></g>
<g id="lklusspfth" transform="translate(1165,1478)"><use href="#e"/><text>lklusspfth</text></g>
<g id="ifojzosjh" transform="translate(1423,1506)"><use href="#e"/><text>ifojzosjh</text></g>
<g id="fzresvtdlm" transform="translate(243,1492)"><use href="#e"/><text>fzresvtdlm</text></g>
<g id="wsqavtflxg" transform="translate(517,1548)"><use href="#e"/><text>wsqavtflxg</text></g>
</g>
<g id="blockE" transform="matrix(.58801 0 0 .76977 0 1207)">
<g id="etbxzlris" transform="translate(140,48)"><use href="#e"/><text>etbxzlris</text></g>
<g id="vkirmbrfs" transform="translate(387,48)"><use href="#e"/><text>vkirmbrfs</text></g>
<g id="uvlqpjpkm" transform="translate(648,48)"><use href="#e"/><text>uvlqpjpkm</text></g>
<g id="mesuhfztu" transform="translate(917,62)"><use href="#e"/><text>mesuhfztu</text></g>
<g id="tcpsjegvxv" transform="translate(1192,90)"><use href="#e"/><text>tcpsjegvxv</text></g>
<g id="uyfouvspwp" transform="translate(1477,118)"><use href="#e"/><text>uyfouvspwp</text></g>
<g id="yimiktbez" transform="translate(278,145)"><use href="#e"/><text>yimiktbez</text></g>
<g id="jrfoapvufd" transform="translate(538,145)"><use href="#e"/><text>jrfoapvufd</text></g>
<g id="oaqxfnlwg" transform="translate(810,159)"><use href="#e"/><text>oaqxfnlwg</text></g>
<g id="blyfeiuwm" transform="translate(1083,186)"><use href="#e"/><text>blyfeiuwm</text></g>
<g id="wbjghnqzp" transform="translate(1358,214)"><use href="#e"/><text>wbjghnqzp</text></g>
<g id="jsfxrloavn" transform="translate(170,243)"><use href="#e"/><text>jsfxrloavn</text></g>
<g id="fbnyyxjfk" transform="translate(423,243)"><use href="#e"/><text>fbnyyxjfk</text></g>
<g id="yitqkieumo" transform="translate(688,257)"><use href="#e"/><text>yitqkieumo</text></g>
<g id="lyxyrzpdti" transform="translate(952,285)"><use href="#e"/><text>lyxyrzpdti</text></g>
<g id="ggvpzhgfh" transform="translate(1227,312)"><use href="#e"/><text>ggvpzhgfh</text></g>
<g id="xnzmqvctyn" transform="translate(1515,340)"><use href="#e"/><text>xnzmqvctyn</text></g>
<g id="yzyvzvfjt" transform="translate(310,340)"><use href="#e"/><text>yzyvzvfjt</text></g>
<g id="sguxeeobar" transform="translate(580,354)"><use href="#e"/><text>sguxeeobar</text></g>
<g id="asvekczlob" transform="translate(850,381)"><use href="#e"/><text>asvekczlob</text></g>
<g id="rlnxynjwbs" transform="translate(1123,409)"><use href="#e"/><text>rlnxynjwbs</text></g>
<g id="yseyrnervb" transform="translate(1395,437)"><use href="#e"/><text>yseyrnervb</text></g>
<g id="amjhljjsar" transform="translate(205,437)"><use href="#e"/><text>amjhljjsar</text></g>
<g id="ivwdrfysx" transform="translate(460,451)"><use href="#e"/><text>ivwdrfysx</text></g>
<g id="uqefvuddb" transform="translate(720,478)"><use href="#e"/><text>uqefvuddb</text></g>
<g id="bawqgpyik" transform="translate(995,506)"><use href="#e"/><text>bawqgpyik</text></g>
<g id="pjluvajfkq" transform="translate(1260,534)"><use href="#e"/><text>pjluvajfkq</text></g>
<g id="lwfmhubdih" transform="translate(1548,534)"><use href="#e"/><text>lwfmhubdih</text></g>
<g id="slcafbisa" transform="translate(123,534)"><use href="#e"/><text>slcafbisa</text></g>
<g id="ejgfifzrku" transform="translate(367,547)"><use href="#e"/><text>ejgfifzrku</text></g>
<g id="vtcajsykiy" transform="translate(625,575)"><use href="#e"/><text>vtcajsykiy</text></g>
<g id="ravhnqrml" transform="translate(898,603)"><use href="#e"/><text>ravhnqrml</text></g>
<g id="kyhkpnuqq" transform="translate(1178,631)"><use href="#e"/><text>kyhkpnuqq</text></g>
<g id="pytdnxfcnp" transform="translate(1450,631)"><use href="#e"/><text>pytdnxfcnp</text></g>
<g id="srndnlirsx" transform="translate(170,644)"><use href="#e"/><text>srndnlirsx</text></g>
<g id="lvgrxrecr" transform="translate(417,672)"><use href="#e"/><text>lvgrxrecr</text></g>
<g id="rswhxljboy" transform="translate(688,700)"><use href="#e"/><text>rswhxljboy</text></g>
<g id="qxvdibtjgy" transform="translate(956,727)"><use href="#e"/><text>qxvdibtjgy</text></g>
<g id="xvwteurbu" transform="translate(1227,727)"><use href="#e"/><text>xvwteurbu</text></g>
<g id="fhvkcxupfy" transform="translate(1508,727)"><use href="#e"/><text>fhvkcxupfy</text></g>
<g id="hglrjbcin" transform="translate(161,741)"><use href="#e"/><text>hglrjbcin</text></g>
<g id="iicuregkn" transform="translate(400,769)"><use href="#e"/><text>iicuregkn</text></g>
<g id="rmrynpafo" transform="translate(665,797)"><use href="#e"/><text>rmrynpafo</text></g>
<g id="rtrjemnxhb" transform="translate(942,825)"><use href="#e"/><text>rtrjemnxhb</text></g>
<g id="onmoripql" transform="translate(1207,825)"><use href="#e"/><text>onmoripql</text></g>
<g id="wonnjghblh" transform="translate(1492,825)"><use href="#e"/><text>wonnjghblh</text></g>
<g id="uetijucxur" transform="translate(315,866)"><use href="#e"/><text>uetijucxur</text></g>
<g id="qtsffangpo" transform="translate(575,894)"><use href="#e"/><text>qtsffangpo</text></g>
<g id="snysaiqkei" transform="translate(846,921)"><use href="#e"/><text>snysaiqkei</text></g>
<g id="ojtcqkmxu" transform="translate(1118,921)"><use href="#e"/><text>ojtcqkmxu</text></g>
<g id="rvcdqaxsd" transform="translate(1387,921)"><use href="#e"/><text>rvcdqaxsd</text></g>
<g id="uzkcsdjjb" transform="translate(203,963)"><use href="#e"/><text>uzkcsdjjb</text></g>
<g id="lzltylwajq" transform="translate(460,991)"><use href="#e"/><text>lzltylwajq</text></g>
<g id="ugfdutzfw" transform="translate(717,1018)"><use href="#e"/><text>ugfdutzfw</text></g>
<g id="uulervcuec" transform="translate(995,1018)"><use href="#e"/><text>uulervcuec</text></g>
<g id="uumjndlive" transform="translate(1270,1018)"><use href="#e"/><text>uumjndlive</text></g>
<g id="iekpaaokow" transform="translate(1547,1046)"><use href="#e"/><text>iekpaaokow</text></g>
<g id="otqtxytsj" transform="translate(124,1060)"><use href="#e"/><text>otqtxytsj</text></g>
<g id="butboitop" transform="translate(367,1087)"><use href="#e"/><text>butboitop</text></g>
<g id="qqtftwodw" transform="translate(630,1115)"><use href="#e"/><text>qqtftwodw</text></g>
<g id="lqgzoidaex" transform="translate(903,1115)"><use href="#e"/><text>lqgzoidaex</text></g>
<g id="sqnjajmva" transform="translate(1170,1115)"><use href="#e"/><text>sqnjajmva</text></g>
<g id="aursnobve" transform="translate(1442,1143)"><use href="#e"/><text>aursnobve</text></g>
<g id="pykalcseh" transform="translate(260,1185)"><use href="#e"/><text>pykalcseh</text></g>
<g id="qhhajrsoh" transform="translate(513,1212)"><use href="#e"/><text>qhhajrsoh</text></g>
<g id="vujzxzumu" transform="translate(778,1212)"><use href="#e"/><text>vujzxzumu</text></g>
<g id="hpmirofmg" transform="translate(1050,1212)"><use href="#e"/><text>hpmirofmg</text></g>
<g id="bjqaebmfxt" transform="translate(1323,1240)"><use href="#e"/><text>bjqaebmfxt</text></g>
<g id="glliutqyp" transform="translate(143,1282)"><use href="#e"/><text>glliutqyp</text></g>
<g id="yutkolttjf" transform="translate(383,1309)"><use href="#e"/><text>yutkolttjf</text></g>
<g id="qprtcfzoxy" transform="translate(648,1309)"><use href="#e"/><text>qprtcfzoxy</text></g>
<g id="rtkqmrpkxr" transform="translate(925,1309)"><use href="#e"/><text>rtkqmrpkxr</text></g>
<g id="bzlmbsfuu" transform="translate(1190,1337)"><use href="#e"/><text>bzlmbsfuu</text></g>
<g id="ymfnpxzkru" transform="translate(1478,1379)"><use href="#e"/><text>ymfnpxzkru</text></g>
<g id="fqpzdpyiv" transform="translate(280,1406)"><use href="#e"/><text>fqpzdpyiv</text></g>
<g id="zjqlavziko" transform="translate(537,1406)"><use href="#e"/><text>zjqlavziko</text></g>
<g id="eiwdnheoj" transform="translate(808,1406)"><use href="#e"/><text>eiwdnheoj</text></g>
<g id="aqkfesniyu" transform="translate(1085,1434)"><use href="#e"/><text>aqkfesniyu</text></g>
<g id="ijdeymlpps" transform="translate(1358,1476)"><use href="#e"/><text>ijdeymlpps</text></g>
<g id="ytjfoeldw" transform="translate(167,1503)"><use href="#e"/><text>ytjfoeldw</text></g>
<g id="cjridwlpu" transform="translate(420,1503)"><use href="#e"/><text>cjridwlpu</text></g>
<g id="kpvaikmkx" transform="translate(687,1503)"><use href="#e"/><text>kpvaikmkx</text></g>
<g id="qxwfhlpkv" transform="translate(957,1531)"><use href="#e"/><text>qxwfhlpkv</text></g>
</g>
<g id="blockF" transform="matrix(.58801 0 0 .76977 922 1207)">
<g id="lkqsvwqqbg" transform="translate(108,20)"><use href="#e"/><text>lkqsvwqqbg</text></g>
<g id="xinghxwicu" transform="translate(395,48)"><use href="#e"/><text>xinghxwicu</text></g>
<g id="nsdmxpqsns" transform="translate(690,48)"><use href="#e"/><text>nsdmxpqsns</text></g>
<g id="zgjzqcuvwe" transform="translate(975,48)"><use href="#e"/><text>zgjzqcuvwe</text></g>
<g id="voqwwreinn" transform="translate(1270,76)"><use href="#e"/><text>voqwwreinn</text></g>
<g id="xsmqfbezxa" transform="translate(197,145)"><use href="#e"/><text>xsmqfbezxa</text></g>
<g id="edycbhgcm" transform="translate(483,145)"><use href="#e"/><text>edycbhgcm</text></g>
<g id="xtmoaspmu" transform="translate(775,145)"><use href="#e"/><text>xtmoaspmu</text></g>
<g id="plhkbgumbb" transform="translate(1072,173)"><use href="#e"/><text>plhkbgumbb</text></g>
<g id="xenvjafzxm" transform="translate(1556,118)"><use href="#e"/><text>xenvjafzxm</text></g>
<g id="owepziozfb" transform="translate(67,243)"><use href="#e"/><text>owepziozfb</text></g>
<g id="awpqdfjskq" transform="translate(357,243)"><use href="#e"/><text>awpqdfjskq</text></g>
<g id="qvqbpqqzik" transform="translate(648,243)"><use href="#e"/><text>qvqbpqqzik</text></g>
<g id="vewuqgozxc" transform="translate(945,270)"><use href="#e"/><text>vewuqgozxc</text></g>
<g id="agmffekmom" transform="translate(1388,214)"><use href="#e"/><text>agmffekmom</text></g>
<g id="utzebcxhml" transform="translate(230,339)"><use href="#e"/><text>utzebcxhml</text></g>
<g id="kabzwsokyk" transform="translate(527,339)"><use href="#e"/><text>kabzwsokyk</text></g>
<g id="dqbyzmnjmv" transform="translate(822,367)"><use href="#e"/><text>dqbyzmnjmv</text></g>
<g id="dghvwxhxxs" transform="translate(1255,312)"><use href="#e"/><text>dghvwxhxxs</text></g>
<g id="hqcvbniwow" transform="translate(1565,326)"><use href="#e"/><text>hqcvbniwow</text></g>
<g id="xcxumcqgn" transform="translate(103,437)"><use href="#e"/><text>xcxumcqgn</text></g>
<g id="ekxvyfkwxa" transform="translate(400,437)"><use href="#e"/><text>ekxvyfkwxa</text></g>
<g id="medmbrlpkl" transform="translate(688,464)"><use href="#e"/><text>medmbrlpkl</text></g>
<g id="czkwaobxmf" transform="translate(1130,409)"><use href="#e"/><text>czkwaobxmf</text></g>
<g id="wwjqkdzeeh" transform="translate(1435,422)"><use href="#e"/><text>wwjqkdzeeh</text></g>
<g id="jgcpwpqgga" transform="translate(270,534)"><use href="#e"/><text>jgcpwpqgga</text></g>
<g id="nqembibkba" transform="translate(563,561)"><use href="#e"/><text>nqembibkba</text></g>
<g id="zfswquxoym" transform="translate(985,506)"><use href="#e"/><text>zfswquxoym</text></g>
<g id="dwgdagyqwn" transform="translate(1297,520)"><use href="#e"/><text>dwgdagyqwn</text></g>
<g id="ylemfuhoml" transform="translate(162,631)"><use href="#e"/><text>ylemfuhoml</text></g>
<g id="bxsbfeahtm" transform="translate(448,658)"><use href="#e"/><text>bxsbfeahtm</text></g>
<g id="hwdovkaspp" transform="translate(855,603)"><use href="#e"/><text>hwdovkaspp</text></g>
<g id="mpqbhpcsah" transform="translate(1162,617)"><use href="#e"/><text>mpqbhpcsah</text></g>
<g id="euuuqywbgm" transform="translate(1480,617)"><use href="#e"/><text>euuuqywbgm</text></g>
<g id="bregycxmrk" transform="translate(233,755)"><use href="#e"/><text>bregycxmrk</text></g>
<g id="hvluxevhkk" transform="translate(740,700)"><use href="#e"/><text>hvluxevhkk</text></g>
<g id="xcwxggpmzy" transform="translate(1043,714)"><use href="#e"/><text>xcwxggpmzy</text></g>
<g id="kkomxyzcdm" transform="translate(1352,714)"><use href="#e"/><text>kkomxyzcdm</text></g>
<g id="rbnxxqaggy" transform="translate(213,853)"><use href="#e"/><text>rbnxxqaggy</text></g>
<g id="dfkdxolanw" transform="translate(522,797)"><use href="#e"/><text>dfkdxolanw</text></g>
<g id="mywqwxjxk" transform="translate(817,811)"><use href="#e"/><text>mywqwxjxk</text></g>
<g id="vdyxuhmmyl" transform="translate(1133,811)"><use href="#e"/><text>vdyxuhmmyl</text></g>
<g id="wwwntrhymn" transform="translate(1445,811)"><use href="#e"/><text>wwwntrhymn</text></g>
<g id="zumtwzgnx" transform="translate(103,949)"><use href="#e"/><text>zumtwzgnx</text></g>
<g id="vbwbfosnzt" transform="translate(503,894)"><use href="#e"/><text>vbwbfosnzt</text></g>
<g id="cpvzfozvwm" transform="translate(802,908)"><use href="#e"/><text>cpvzfozvwm</text></g>
<g id="embcuampie" transform="translate(1110,908)"><use href="#e"/><text>embcuampie</text></g>
<g id="imuawqmdvd" transform="translate(1425,908)"><use href="#e"/><text>imuawqmdvd</text></g>
<g id="uognqkogiz" transform="translate(395,991)"><use href="#e"/><text>uognqkogiz</text></g>
<g id="wdddqbded" transform="translate(683,1004)"><use href="#e"/><text>wdddqbded</text></g>
<g id="awbmczukgt" transform="translate(983,1004)"><use href="#e"/><text>awbmczukgt</text></g>
<g id="zymbwwmmc" transform="translate(1303,1004)"><use href="#e"/><text>zymbwwmmc</text></g>
<g id="wxjgtdcpna" transform="translate(267,1087)"><use href="#e"/><text>wxjgtdcpna</text></g>
<g id="kqyqxekrub" transform="translate(558,1101)"><use href="#e"/><text>kqyqxekrub</text></g>
<g id="mhozaqoebw" transform="translate(860,1101)"><use href="#e"/><text>mhozaqoebw</text></g>
<g id="ozgxsmggqo" transform="translate(1163,1101)"><use href="#e"/><text>ozgxsmggqo</text></g>
<g id="bbdrtvurom" transform="translate(160,1185)"><use href="#e"/><text>bbdrtvurom</text></g>
<g id="kqdmsqzdp" transform="translate(447,1199)"><use href="#e"/><text>kqdmsqzdp</text></g>
<g id="qzddcehacv" transform="translate(740,1199)"><use href="#e"/><text>qzddcehacv</text></g>
<g id="ygrpkgyymq" transform="translate(1037,1199)"><use href="#e"/><text>ygrpkgyymq</text></g>
<g id="lcepjqqth" transform="translate(1318,1199)"><use href="#e"/><text>lcepjqqth</text></g>
<g id="vungaarpyg" transform="translate(33,1282)"><use href="#e"/><text>vungaarpyg</text></g>
<g id="awgyggamx" transform="translate(326,1295)"><use href="#e"/><text>awgyggamx</text></g>
<g id="hcmzpwvhe" transform="translate(614,1295)"><use href="#e"/><text>hcmzpwvhe</text></g>
<g id="amqznqmom" transform="translate(913,1295)"><use href="#e"/><text>amqznqmom</text></g>
<g id="skowpamqw" transform="translate(1217,1295)"><use href="#e"/><text>skowpamqw</text></g>
<g id="hskgcmacuu" transform="translate(200,1392)"><use href="#e"/><text>hskgcmacuu</text></g>
<g id="msmlbvbcto" transform="translate(490,1392)"><use href="#e"/><text>msmlbvbcto</text></g>
<g id="xcwnwaoxnn" transform="translate(787,1392)"><use href="#e"/><text>xcwnwaoxnn</text></g>
<g id="wqdkgpkvux" transform="translate(1093,1392)"><use href="#e"/><text>wqdkgpkvux</text></g>
<g id="cwasknqcqg" transform="translate(73,1490)"><use href="#e"/><text>cwasknqcqg</text></g>
<g id="ybdycbdprk" transform="translate(358,1490)"><use href="#e"/><text>ybdycbdprk</text></g>
<g id="hoxacnrknm" transform="translate(655,1490)"><use href="#e"/><text>hoxacnrknm</text></g>
<g id="lwpkuqqme" transform="translate(940,1490)"><use href="#e"/><text>lwpkuqqme</text></g>
<g id="duuwibdaaq" transform="translate(1232,1490)"><use href="#e"/><text>duuwibdaaq</text></g>
</g>
<g id="blockG" transform="matrix(.58801 0 0 .76977 1844 1207)">
<g id="agmxnkxzn" transform="translate(113,20)"><use href="#e"/><text>agmxnkxzn</text></g>
<g id="pjwaqvaqyc" transform="translate(405,35)"><use href="#e"/><text>pjwaqvaqyc</text></g>
<g id="wfoseodma" transform="translate(692,35)"><use href="#e"/><text>wfoseodma</text></g>
<g id="wbwinwrxp" transform="translate(985,35)"><use href="#e"/><text>wbwinwrxp</text></g>
<g id="zakcedfvph" transform="translate(1400,20)"><use href="#e"/><text>zakcedfvph</text></g>
<g id="vmcrscefdh" transform="translate(277,131)"><use href="#e"/><text>vmcrscefdh</text></g>
<g id="iujswlzmnc" transform="translate(565,131)"><use href="#e"/><text>iujswlzmnc</text></g>
<g id="bkrvwtomx" transform="translate(855,131)"><use href="#e"/><text>bkrvwtomx</text></g>
<g id="ndqlwqdhst" transform="translate(1275,118)"><use href="#e"/><text>ndqlwqdhst</text></g>
<g id="bqybuboiuh" transform="translate(1566,118)"><use href="#e"/><text>bqybuboiuh</text></g>
<g id="phbvdzrymd" transform="translate(120,228)"><use href="#e"/><text>phbvdzrymd</text></g>
<g id="mytfwcvxxk" transform="translate(428,228)"><use href="#e"/><text>mytfwcvxxk</text></g>
<g id="kknsmwoms" transform="translate(738,228)"><use href="#e"/><text>kknsmwoms</text></g>
<g id="xbyfmjqdpj" transform="translate(1147,214)"><use href="#e"/><text>xbyfmjqdpj</text></g>
<g id="pqmjggniut" transform="translate(1436,214)"><use href="#e"/><text>pqmjggniut</text></g>
<g id="nkeumuqpcv" transform="translate(305,326)"><use href="#e"/><text>nkeumuqpcv</text></g>
<g id="wykcoxkjms" transform="translate(612,326)"><use href="#e"/><text>wykcoxkjms</text></g>
<g id="jxopqbxaxc" transform="translate(1040,312)"><use href="#e"/><text>jxopqbxaxc</text></g>
<g id="yavqvawcra" transform="translate(1332,312)"><use href="#e"/><text>yavqvawcra</text></g>
<g id="bjweowagxb" transform="translate(177,422)"><use href="#e"/><text>bjweowagxb</text></g>
<g id="uohmrhnspy" transform="translate(484,422)"><use href="#e"/><text>uohmrhnspy</text></g>
<g id="zmdzpmbkd" transform="translate(917,409)"><use href="#e"/><text>zmdzpmbkd</text></g>
<g id="yzmspljmoj" transform="translate(1203,409)"><use href="#e"/><text>yzmspljmoj</text></g>
<g id="elwerucxbx" transform="translate(1492,464)"><use href="#e"/><text>elwerucxbx</text></g>
<g id="tyknmwwvbw" transform="translate(45,520)"><use href="#e"/><text>tyknmwwvbw</text></g>
<g id="gxxpwwkwjw" transform="translate(370,520)"><use href="#e"/><text>gxxpwwkwjw</text></g>
<g id="kmbqpnoojo" transform="translate(792,506)"><use href="#e"/><text>kmbqpnoojo</text></g>
<g id="zcisguordm" transform="translate(1093,506)"><use href="#e"/><text>zcisguordm</text></g>
<g id="cynfewmuie" transform="translate(1390,561)"><use href="#e"/><text>cynfewmuie</text></g>
<g id="qgqgxsxgmm" transform="translate(238,617)"><use href="#e"/><text>qgqgxsxgmm</text></g>
<g id="urfwpmiswk" transform="translate(683,603)"><use href="#e"/><text>urfwpmiswk</text></g>
<g id="kmgwzjhrcd" transform="translate(990,603)"><use href="#e"/><text>kmgwzjhrcd</text></g>
<g id="qnpmygwlb" transform="translate(1275,659)"><use href="#e"/><text>qnpmygwlb</text></g>
<g id="hcvmbowhhd" transform="translate(112,714)"><use href="#e"/><text>hcvmbowhhd</text></g>
<g id="fdolvmkxmg" transform="translate(560,700)"><use href="#e"/><text>fdolvmkxmg</text></g>
<g id="lhtxpuvmjm" transform="translate(862,700)"><use href="#e"/><text>lhtxpuvmjm</text></g>
<g id="nwgehectbt" transform="translate(1147,755)"><use href="#e"/><text>nwgehectbt</text></g>
<g id="ayrnaxwqvn" transform="translate(1442,783)"><use href="#e"/><text>ayrnaxwqvn</text></g>
<g id="rnqrmrwmny" transform="translate(433,797)"><use href="#e"/><text>rnqrmrwmny</text></g>
<g id="gmnhcmothb" transform="translate(743,797)"><use href="#e"/><text>gmnhcmothb</text></g>
<g id="oayhnylhug" transform="translate(1040,853)"><use href="#e"/><text>oayhnylhug</text></g>
<g id="afhvnyqxyu" transform="translate(1330,880)"><use href="#e"/><text>afhvnyqxyu</text></g>
<g id="mxuwbhwgm" transform="translate(205,894)"><use href="#e"/><text>mxuwbhwgm</text></g>
<g id="uhhqmrsdng" transform="translate(520,894)"><use href="#e"/><text>uhhqmrsdng</text></g>
<g id="mgbdioovhg" transform="translate(828,949)"><use href="#e"/><text>mgbdioovhg</text></g>
<g id="okwolbukvt" transform="translate(1130,977)"><use href="#e"/><text>okwolbukvt</text></g>
<g id="iwaaqinhvg" transform="translate(1420,977)"><use href="#e"/><text>iwaaqinhvg</text></g>
<g id="mvwbhhsnwd" transform="translate(188,991)"><use href="#e"/><text>mvwbhhsnwd</text></g>
<g id="zkmvweomv" transform="translate(505,991)"><use href="#e"/><text>zkmvweomv</text></g>
<g id="cwemgwxpg" transform="translate(812,1046)"><use href="#e"/><text>cwemgwxpg</text></g>
<g id="nvqpnksxog" transform="translate(1115,1074)"><use href="#e"/><text>nvqpnksxog</text></g>
<g id="ichmmdzalt" transform="translate(1403,1074)"><use href="#e"/><text>ichmmdzalt</text></g>
<g id="ptzucaagmw" transform="translate(48,1087)"><use href="#e"/><text>ptzucaagmw</text></g>
<g id="dvqflvdwmp" transform="translate(357,1087)"><use href="#e"/><text>dvqflvdwmp</text></g>
<g id="pmemlhilwd" transform="translate(665,1143)"><use href="#e"/><text>pmemlhilwd</text></g>
<g id="nhfzkqwbiq" transform="translate(967,1170)"><use href="#e"/><text>nhfzkqwbiq</text></g>
<g id="pwtwnglots" transform="translate(1255,1170)"><use href="#e"/><text>pwtwnglots</text></g>
<g id="cbchzbhmg" transform="translate(1545,1198)"><use href="#e"/><text>cbchzbhmg</text></g>
<g id="ywkmpbdsnr" transform="translate(33,1185)"><use href="#e"/><text>ywkmpbdsnr</text></g>
<g id="hkmgknyrvu" transform="translate(340,1185)"><use href="#e"/><text>hkmgknyrvu</text></g>
<g id="wspewycaqg" transform="translate(647,1240)"><use href="#e"/><text>wspewycaqg</text></g>
<g id="xwbsxnxtqx" transform="translate(952,1268)"><use href="#e"/><text>xwbsxnxtqx</text></g>
<g id="yancskckga" transform="translate(1237,1268)"><use href="#e"/><text>yancskckga</text></g>
<g id="mtajwnxhhi" transform="translate(1530,1295)"><use href="#e"/><text>mtajwnxhhi</text></g>
<g id="fpqshmmqnn" transform="translate(35,1282)"><use href="#e"/><text>fpqshmmqnn</text></g>
<g id="ixubwvmqkr" transform="translate(340,1282)"><use href="#e"/><text>ixubwvmqkr</text></g>
<g id="yomjjwbhbx" transform="translate(647,1337)"><use href="#e"/><text>yomjjwbhbx</text></g>
<g id="hzcozbjpnb" transform="translate(947,1365)"><use href="#e"/><text>hzcozbjpnb</text></g>
<g id="cyquwiwhz" transform="translate(1237,1365)"><use href="#e"/><text>cyquwiwhz</text></g>
<g id="bhfawghpok" transform="translate(1534,1392)"><use href="#e"/><text>bhfawghpok</text></g>
<g id="wnuxpbuksd" transform="translate(31,1379)"><use href="#e"/><text>wnuxpbuksd</text></g>
<g id="mgupedrnvm" transform="translate(345,1379)"><use href="#e"/><text>mgupedrnvm</text></g>
<g id="mrvysbvsw" transform="translate(637,1434)"><use href="#e"/><text>mrvysbvsw</text></g>
<g id="aikmzhzbvy" transform="translate(933,1462)"><use href="#e"/><text>aikmzhzbvy</text></g>
<g id="rimvzwxmb" transform="translate(1222,1462)"><use href="#e"/><text>rimvzwxmb</text></g>
<g id="ndngewgpa" transform="translate(1525,1490)"><use href="#e"/><text>ndngewgpa</text></g>
<g id="nqbeaupmm" transform="translate(28,1476)"><use href="#e"/><text>nqbeaupmm</text></g>
<g id="fmiqwwrdzr" transform="translate(318,1476)"><use href="#e"/><text>fmiqwwrdzr</text></g>
<g id="mpqmfjkam" transform="translate(608,1531)"><use href="#e"/><text>mpqmfjkam</text></g>
<g id="dasxnuqldy" transform="translate(893,1562)"><use href="#e"/><text>dasxnuqldy</text></g>
<g id="xcanhxiawp" transform="translate(1177,1562)"><use href="#e"/><text>xcanhxiawp</text></g>
</g>
<g id="blockH" transform="matrix(.58801 0 0 .76977 2766 1207)">
<g id="gzcgbycvuf" transform="translate(123,20)"><use href="#e"/><text>gzcgbycvuf</text></g>
<g id="keyuvkvhz" transform="translate(790,8)"><use href="#e"/><text>keyuvkvhz</text></g>
<g id="rjnsntvbqo" transform="translate(1058,8)"><use href="#e"/><text>rjnsntvbqo</text></g>
<g id="fnwjhxkie" transform="translate(1325,35)"><use href="#e"/><text>fnwjhxkie</text></g>
<g id="qrhzcetkzh" transform="translate(408,76)"><use href="#e"/><text>qrhzcetkzh</text></g>
<g id="ienozlbmef" transform="translate(680,104)"><use href="#e"/><text>ienozlbmef</text></g>
<g id="pwtsxssox" transform="translate(947,104)"><use href="#e"/><text>pwtsxssox</text></g>
<g id="cetntybqp" transform="translate(1215,131)"><use href="#e"/><text>cetntybqp</text></g>
<g id="qtsroftvz" transform="translate(1460,159)"><use href="#e"/><text>qtsroftvz</text></g>
<g id="opaqlpvcof" transform="translate(282,173)"><use href="#e"/><text>opaqlpvcof</text></g>
<g id="zvqqntreeo" transform="translate(553,201)"><use href="#e"/><text>zvqqntreeo</text></g>
<g id="zimrfkhkxs" transform="translate(828,201)"><use href="#e"/><text>zimrfkhkxs</text></g>
<g id="jntupofjo" transform="translate(1082,228)"><use href="#e"/><text>jntupofjo</text></g>
<g id="lcevndrix" transform="translate(1338,255)"><use href="#e"/><text>lcevndrix</text></g>
<g id="nvqbhwcpq" transform="translate(160,270)"><use href="#e"/><text>nvqbhwcpq</text></g>
<g id="tbsnxdibfz" transform="translate(442,297)"><use href="#e"/><text>tbsnxdibfz</text></g>
<g id="gtscjhqpm" transform="translate(712,297)"><use href="#e"/><text>gtscjhqpm</text></g>
<g id="egrpwedld" transform="translate(985,326)"><use href="#e"/><text>egrpwedld</text></g>
<g id="uhvasieeu" transform="translate(1250,353)"><use href="#e"/><text>uhvasieeu</text></g>
<g id="kpswhtscsn" transform="translate(51,368)"><use href="#e"/><text>kpswhtscsn</text></g>
<g id="syphvkeoz" transform="translate(332,395)"><use href="#e"/><text>syphvkeoz</text></g>
<g id="aeiiardrgm" transform="translate(606,395)"><use href="#e"/><text>aeiiardrgm</text></g>
<g id="ufqtxmebct" transform="translate(883,422)"><use href="#e"/><text>ufqtxmebct</text></g>
<g id="hlhdnsinc" transform="translate(1142,450)"><use href="#e"/><text>hlhdnsinc</text></g>
<g id="rifxridwz" transform="translate(1392,505)"><use href="#e"/><text>rifxridwz</text></g>
<g id="flqbbshodj" transform="translate(206,492)"><use href="#e"/><text>flqbbshodj</text></g>
<g id="chfmqpwfc" transform="translate(484,492)"><use href="#e"/><text>chfmqpwfc</text></g>
<g id="sqtnhrtugy" transform="translate(750,520)"><use href="#e"/><text>sqtnhrtugy</text></g>
<g id="impentylcs" transform="translate(1025,547)"><use href="#e"/><text>impentylcs</text></g>
<g id="gsgfakfrk" transform="translate(1285,603)"><use href="#e"/><text>gsgfakfrk</text></g>
<g id="tckrywxcqa" transform="translate(106,590)"><use href="#e"/><text>tckrywxcqa</text></g>
<g id="ulsrmacspr" transform="translate(390,590)"><use href="#e"/><text>ulsrmacspr</text></g>
<g id="yvbyeablrn" transform="translate(663,617)"><use href="#e"/><text>yvbyeablrn</text></g>
<g id="fvapllcaqy" transform="translate(931,645)"><use href="#e"/><text>fvapllcaqy</text></g>
<g id="ntxcierkju" transform="translate(1198,700)"><use href="#e"/><text>ntxcierkju</text></g>
<g id="mopkqayyw" transform="translate(2,687)"><use href="#e"/><text>mopkqayyw</text></g>
<g id="zqpolwzyr" transform="translate(278,687)"><use href="#e"/><text>zqpolwzyr</text></g>
<g id="qthraqbmji" transform="translate(553,714)"><use href="#e"/><text>qthraqbmji</text></g>
<g id="jcepsgvwb" transform="translate(822,742)"><use href="#e"/><text>jcepsgvwb</text></g>
<g id="yephojfaq" transform="translate(1075,797)"><use href="#e"/><text>yephojfaq</text></g>
<g id="odtbftejv" transform="translate(1443,783)"><use href="#e"/><text>odtbftejv</text></g>
<g id="pcgebvsyse" transform="translate(158,783)"><use href="#e"/><text>pcgebvsyse</text></g>
<g id="sahtutmny" transform="translate(440,811)"><use href="#e"/><text>sahtutmny</text></g>
<g id="vrtxehkxhi" transform="translate(715,838)"><use href="#e"/><text>vrtxehkxhi</text></g>
<g id="zmntfawgn" transform="translate(990,894)"><use href="#e"/><text>zmntfawgn</text></g>
<g id="rdnbxgjsz" transform="translate(1342,880)"><use href="#e"/><text>rdnbxgjsz</text></g>
<g id="csnkpbjynv" transform="translate(50,880)"><use href="#e"/><text>csnkpbjynv</text></g>
<g id="kdvwabhjk" transform="translate(337,908)"><use href="#e"/><text>kdvwabhjk</text></g>
<g id="vcmebtjzy" transform="translate(603,936)"><use href="#e"/><text>vcmebtjzy</text></g>
<g id="rbktaogiph" transform="translate(878,991)"><use href="#e"/><text>rbktaogiph</text></g>
<g id="bfuossvjlj" transform="translate(1252,977)"><use href="#e"/><text>bfuossvjlj</text></g>
<g id="mvhbeaknrd" transform="translate(148,1004)"><use href="#e"/><text>mvhbeaknrd</text></g>
<g id="bkghpptga" transform="translate(423,1032)"><use href="#e"/><text>bkghpptga</text></g>
<g id="ncanregnpt" transform="translate(700,1087)"><use href="#e"/><text>ncanregnpt</text></g>
<g id="agjlsxgjb" transform="translate(1137,1074)"><use href="#e"/><text>agjlsxgjb</text></g>
<g id="doojodrfz" transform="translate(1395,1087)"><use href="#e"/><text>doojodrfz</text></g>
<g id="knchsdpidp" transform="translate(122,1101)"><use href="#e"/><text>knchsdpidp</text></g>
<g id="rkmnjblola" transform="translate(408,1129)"><use href="#e"/><text>rkmnjblola</text></g>
<g id="qqrasahzeq" transform="translate(682,1185)"><use href="#e"/><text>qqrasahzeq</text></g>
<g id="tckfvdtpxq" transform="translate(968,1170)"><use href="#e"/><text>tckfvdtpxq</text></g>
<g id="yysoinzai" transform="translate(1230,1185)"><use href="#e"/><text>yysoinzai</text></g>
<g id="itxloamtrg" transform="translate(258,1226)"><use href="#e"/><text>itxloamtrg</text></g>
<g id="bnjjeopzrb" transform="translate(532,1282)"><use href="#e"/><text>bnjjeopzrb</text></g>
<g id="foftlohakb" transform="translate(947,1268)"><use href="#e"/><text>foftlohakb</text></g>
<g id="nssrwvziu" transform="translate(1217,1282)"><use href="#e"/><text>nssrwvziu</text></g>
<g id="lcvtvpllc" transform="translate(1460,1282)"><use href="#e"/><text>lcvtvpllc</text></g>
<g id="aiqqpblixk" transform="translate(242,1323)"><use href="#e"/><text>aiqqpblixk</text></g>
<g id="dqqrkcsyn" transform="translate(512,1379)"><use href="#e"/><text>dqqrkcsyn</text></g>
<g id="mepauqdtl" transform="translate(803,1365)"><use href="#e"/><text>mepauqdtl</text></g>
<g id="kochlljwu" transform="translate(1070,1379)"><use href="#e"/><text>kochlljwu</text></g>
<g id="gqkzhjntj" transform="translate(1320,1379)"><use href="#e"/><text>gqkzhjntj</text></g>
<g id="bxikfhxeun" transform="translate(247,1420)"><use href="#e"/><text>bxikfhxeun</text></g>
<g id="linruotdwo" transform="translate(517,1476)"><use href="#e"/><text>linruotdwo</text></g>
<g id="kihtiuwccr" transform="translate(777,1462)"><use href="#e"/><text>kihtiuwccr</text></g>
<g id="davneervx" transform="translate(1055,1476)"><use href="#e"/><text>davneervx</text></g>
<g id="ixkpouclg" transform="translate(1325,1476)"><use href="#e"/><text>ixkpouclg</text></g>
<g id="jckiggiyml" transform="translate(223,1517)"><use href="#e"/><text>jckiggiyml</text></g>
<g id="dpemqlwii" transform="translate(787,1562)"><use href="#e"/><text>dpemqlwii</text></g>
</g>
<g id="blockI" transform="matrix(.58801 0 0 .76977 0 2414)">
<g id="ojszxeouq" transform="translate(315,33)"><use href="#e"/><text>ojszxeouq</text></g>
<g id="krnarrtwwi" transform="translate(578,33)"><use href="#e"/><text>krnarrtwwi</text></g>
<g id="mhlldzghk" transform="translate(847,60)"><use href="#e"/><text>mhlldzghk</text></g>
<g id="dwfmtkynl" transform="translate(1230,2)"><use href="#e"/><text>dwfmtkynl</text></g>
<g id="qrhtahdgum" transform="translate(1510,15)"><use href="#e"/><text>qrhtahdgum</text></g>
<g id="hdrybsqrua" transform="translate(1122,101)"><use href="#e"/><text>hdrybsqrua</text></g>
<g id="vtebbvvap" transform="translate(1390,115)"><use href="#e"/><text>vtebbvvap</text></g>
<g id="iioutdoxw" transform="translate(207,130)"><use href="#e"/><text>iioutdoxw</text></g>
<g id="siayoczlo" transform="translate(455,130)"><use href="#e"/><text>siayoczlo</text></g>
<g id="kmhaqnfje" transform="translate(720,157)"><use href="#e"/><text>kmhaqnfje</text></g>
<g id="knidswfgp" transform="translate(992,198)"><use href="#e"/><text>knidswfgp</text></g>
<g id="lnxypbovx" transform="translate(1263,213)"><use href="#e"/><text>lnxypbovx</text></g>
<g id="kaxmxmcja" transform="translate(1544,213)"><use href="#e"/><text>kaxmxmcja</text></g>
<g id="jlluacljf" transform="translate(115,226)"><use href="#e"/><text>jlluacljf</text></g>
<g id="rrejlooirg" transform="translate(347,226)"><use href="#e"/><text>rrejlooirg</text></g>
<g id="nfowesiao" transform="translate(608,254)"><use href="#e"/><text>nfowesiao</text></g>
<g id="uslfankgcj" transform="translate(881,296)"><use href="#e"/><text>uslfankgcj</text></g>
<g id="rrwhjyoeoz" transform="translate(1160,310)"><use href="#e"/><text>rrwhjyoeoz</text></g>
<g id="lmqxhytbj" transform="translate(1423,310)"><use href="#e"/><text>lmqxhytbj</text></g>
<g id="pftleaahb" transform="translate(237,323)"><use href="#e"/><text>pftleaahb</text></g>
<g id="axoikuxkr" transform="translate(497,351)"><use href="#e"/><text>axoikuxkr</text></g>
<g id="slcuscnyw" transform="translate(755,392)"><use href="#e"/><text>slcuscnyw</text></g>
<g id="vfulgkymq" transform="translate(1030,406)"><use href="#e"/><text>vfulgkymq</text></g>
<g id="lwidchomli" transform="translate(1305,406)"><use href="#e"/><text>lwidchomli</text></g>
<g id="srdyrtsel" transform="translate(122,420)"><use href="#e"/><text>srdyrtsel</text></g>
<g id="ddjfotdzp" transform="translate(366,448)"><use href="#e"/><text>ddjfotdzp</text></g>
<g id="tevqmsdjxl" transform="translate(633,490)"><use href="#e"/><text>tevqmsdjxl</text></g>
<g id="hmgyboyci" transform="translate(905,503)"><use href="#e"/><text>hmgyboyci</text></g>
<g id="padskdzgv" transform="translate(1172,503)"><use href="#e"/><text>padskdzgv</text></g>
<g id="fukglpdyoy" transform="translate(1450,503)"><use href="#e"/><text>fukglpdyoy</text></g>
<g id="djparbkhz" transform="translate(260,545)"><use href="#e"/><text>djparbkhz</text></g>
<g id="jbgjkdznc" transform="translate(513,587)"><use href="#e"/><text>jbgjkdznc</text></g>
<g id="tuprhouvea" transform="translate(778,600)"><use href="#e"/><text>tuprhouvea</text></g>
<g id="xiuwmtesjl" transform="translate(1050,600)"><use href="#e"/><text>xiuwmtesjl</text></g>
<g id="tyyagkftaw" transform="translate(1322,600)"><use href="#e"/><text>tyyagkftaw</text></g>
<g id="zrsflvjss" transform="translate(137,642)"><use href="#e"/><text>zrsflvjss</text></g>
<g id="nixiywfth" transform="translate(385,684)"><use href="#e"/><text>nixiywfth</text></g>
<g id="dpogglcryc" transform="translate(651,697)"><use href="#e"/><text>dpogglcryc</text></g>
<g id="pbfuckwta" transform="translate(918,697)"><use href="#e"/><text>pbfuckwta</text></g>
<g id="cpvabwjwe" transform="translate(1196,697)"><use href="#e"/><text>cpvabwjwe</text></g>
<g id="yrpzrtkxqi" transform="translate(1460,697)"><use href="#e"/><text>yrpzrtkxqi</text></g>
<g id="rscgruczri" transform="translate(278,780)"><use href="#e"/><text>rscgruczri</text></g>
<g id="luucqfkpf" transform="translate(531,795)"><use href="#e"/><text>luucqfkpf</text></g>
<g id="byenjpbsb" transform="translate(790,795)"><use href="#e"/><text>byenjpbsb</text></g>
<g id="niqoiyfdhi" transform="translate(1062,795)"><use href="#e"/><text>niqoiyfdhi</text></g>
<g id="ecckdelyfq" transform="translate(1338,795)"><use href="#e"/><text>ecckdelyfq</text></g>
<g id="sxhckiaij" transform="translate(162,878)"><use href="#e"/><text>sxhckiaij</text></g>
<g id="aiotfzuejt" transform="translate(400,891)"><use href="#e"/><text>aiotfzuejt</text></g>
<g id="eucencfijq" transform="translate(662,891)"><use href="#e"/><text>eucencfijq</text></g>
<g id="xpbstexhxc" transform="translate(943,891)"><use href="#e"/><text>xpbstexhxc</text></g>
<g id="mwjsprtzk" transform="translate(1208,891)"><use href="#e"/><text>mwjsprtzk</text></g>
<g id="mjlffmbqd" transform="translate(1480,891)"><use href="#e"/><text>mjlffmbqd</text></g>
<g id="xthqemvti" transform="translate(280,988)"><use href="#e"/><text>xthqemvti</text></g>
<g id="qxbjxellnb" transform="translate(538,988)"><use href="#e"/><text>qxbjxellnb</text></g>
<g id="dxcltmbys" transform="translate(808,988)"><use href="#e"/><text>dxcltmbys</text></g>
<g id="bfguvgqul" transform="translate(1080,988)"><use href="#e"/><text>bfguvgqul</text></g>
<g id="qhptkbdfy" transform="translate(1350,988)"><use href="#e"/><text>qhptkbdfy</text></g>
<g id="fnlczqpca" transform="translate(167,1085)"><use href="#e"/><text>fnlczqpca</text></g>
<g id="ydaizolyv" transform="translate(423,1085)"><use href="#e"/><text>ydaizolyv</text></g>
<g id="ciznscnwc" transform="translate(681,1085)"><use href="#e"/><text>ciznscnwc</text></g>
<g id="oqkbjwipq" transform="translate(955,1085)"><use href="#e"/><text>oqkbjwipq</text></g>
<g id="hepcirnoxk" transform="translate(1230,1085)"><use href="#e"/><text>hepcirnoxk</text></g>
<g id="pvfplrabhg" transform="translate(1503,1085)"><use href="#e"/><text>pvfplrabhg</text></g>
<g id="plczicncb" transform="translate(293,1182)"><use href="#e"/><text>plczicncb</text></g>
<g id="imieehwsl" transform="translate(553,1182)"><use href="#e"/><text>imieehwsl</text></g>
<g id="aoxzvlyxpr" transform="translate(832,1182)"><use href="#e"/><text>aoxzvlyxpr</text></g>
<g id="zelfmqfjro" transform="translate(1100,1182)"><use href="#e"/><text>zelfmqfjro</text></g>
<g id="uekeyxafal" transform="translate(1375,1182)"><use href="#e"/><text>uekeyxafal</text></g>
<g id="tikzgvkhs" transform="translate(167,1280)"><use href="#e"/><text>tikzgvkhs</text></g>
<g id="jebpdzxjl" transform="translate(418,1280)"><use href="#e"/><text>jebpdzxjl</text></g>
<g id="kyojzbbnl" transform="translate(677,1280)"><use href="#e"/><text>kyojzbbnl</text></g>
<g id="brkrjxjnsa" transform="translate(932,1280)"><use href="#e"/><text>brkrjxjnsa</text></g>
<g id="ycgtlrnrq" transform="translate(1178,1280)"><use href="#e"/><text>ycgtlrnrq</text></g>
<g id="jqcibhdio" transform="translate(1433,1280)"><use href="#e"/><text>jqcibhdio</text></g>
<g id="jlobltchpi" transform="translate(293,1377)"><use href="#e"/><text>jlobltchpi</text></g>
<g id="scqfstvkz" transform="translate(547,1377)"><use href="#e"/><text>scqfstvkz</text></g>
<g id="anszilekp" transform="translate(800,1377)"><use href="#e"/><text>anszilekp</text></g>
<g id="vvtxptdei" transform="translate(1053,1377)"><use href="#e"/><text>vvtxptdei</text></g>
<g id="frusjzlogq" transform="translate(1313,1377)"><use href="#e"/><text>frusjzlogq</text></g>
<g id="kjzzdptml" transform="translate(1565,1377)"><use href="#e"/><text>kjzzdptml</text></g>
<g id="rphxrgasji" transform="translate(170,1473)"><use href="#e"/><text>rphxrgasji</text></g>
<g id="ljrdulpsq" transform="translate(413,1473)"><use href="#e"/><text>ljrdulpsq</text></g>
<g id="pihlxidhj" transform="translate(652,1473)"><use href="#e"/><text>pihlxidhj</text></g>
<g id="qtrlfkrur" transform="translate(880,1473)"><use href="#e"/><text>qtrlfkrur</text></g>
<g id="hqjbjhidj" transform="translate(1123,1473)"><use href="#e"/><text>hqjbjhidj</text></g>
<g id="jifctyrus" transform="translate(1353,1473)"><use href="#e"/><text>jifctyrus</text></g>
</g>
<g id="blockJ" transform="matrix(.58801 0 0 .76977 922 2414)">
<g id="zuknqawhjf" transform="translate(232,18)"><use href="#e"/><text>zuknqawhjf</text></g>
<g id="akoboyzmis" transform="translate(523,18)"><use href="#e"/><text>akoboyzmis</text></g>
<g id="wmtzbfhgth" transform="translate(813,18)"><use href="#e"/><text>wmtzbfhgth</text></g>
<g id="oeivwhimtb" transform="translate(1103,18)"><use href="#e"/><text>oeivwhimtb</text></g>
<g id="trrhmqmqnj" transform="translate(105,115)"><use href="#e"/><text>trrhmqmqnj</text></g>
<g id="jqjgmgmwc" transform="translate(395,115)"><use href="#e"/><text>jqjgmgmwc</text></g>
<g id="cxnlwkubqf" transform="translate(685,115)"><use href="#e"/><text>cxnlwkubqf</text></g>
<g id="bwuizhjshd" transform="translate(973,115)"><use href="#e"/><text>bwuizhjshd</text></g>
<g id="mbcdfqnfod" transform="translate(1268,115)"><use href="#e"/><text>mbcdfqnfod</text></g>
<g id="dvptxwbpm" transform="translate(268,213)"><use href="#e"/><text>dvptxwbpm</text></g>
<g id="fzhpuwows" transform="translate(555,213)"><use href="#e"/><text>fzhpuwows</text></g>
<g id="gkzdnvmae" transform="translate(845,213)"><use href="#e"/><text>gkzdnvmae</text></g>
<g id="kcmcmasyd" transform="translate(1138,213)"><use href="#e"/><text>kcmcmasyd</text></g>
<g id="mzjjdpbeey" transform="translate(132,309)"><use href="#e"/><text>mzjjdpbeey</text></g>
<g id="jwmhaybkb" transform="translate(430,309)"><use href="#e"/><text>jwmhaybkb</text></g>
<g id="poghpqefnk" transform="translate(720,309)"><use href="#e"/><text>poghpqefnk</text></g>
<g id="temxysgbgk" transform="translate(1015,309)"><use href="#e"/><text>temxysgbgk</text></g>
<g id="xfscxwovm" transform="translate(1300,309)"><use href="#e"/><text>xfscxwovm</text></g>
<g id="qmuplitukv" transform="translate(12,406)"><use href="#e"/><text>qmuplitukv</text></g>
<g id="pvxvcdrdnv" transform="translate(303,406)"><use href="#e"/><text>pvxvcdrdnv</text></g>
<g id="miavmlnrbz" transform="translate(595,406)"><use href="#e"/><text>miavmlnrbz</text></g>
<g id="ptkwggcfxa" transform="translate(884,406)"><use href="#e"/><text>ptkwggcfxa</text></g>
<g id="gmoqvswxu" transform="translate(1177,406)"><use href="#e"/><text>gmoqvswxu</text></g>
<g id="kemlqwvza" transform="translate(175,503)"><use href="#e"/><text>kemlqwvza</text></g>
<g id="cwyopytfuv" transform="translate(466,503)"><use href="#e"/><text>cwyopytfuv</text></g>
<g id="jkoeogkanb" transform="translate(756,503)"><use href="#e"/><text>jkoeogkanb</text></g>
<g id="fgsmshera" transform="translate(1035,503)"><use href="#e"/><text>fgsmshera</text></g>
<g id="dtueghnlnp" transform="translate(1313,503)"><use href="#e"/><text>dtueghnlnp</text></g>
<g id="dpidompun" transform="translate(29,600)"><use href="#e"/><text>dpidompun</text></g>
<g id="upgkpcbip" transform="translate(293,600)"><use href="#e"/><text>upgkpcbip</text></g>
<g id="tszbnymle" transform="translate(563,600)"><use href="#e"/><text>tszbnymle</text></g>
<g id="azyhikgijn" transform="translate(838,600)"><use href="#e"/><text>azyhikgijn</text></g>
<g id="ifywwcgbq" transform="translate(1115,600)"><use href="#e"/><text>ifywwcgbq</text></g>
<g id="axrdvdezp" transform="translate(165,697)"><use href="#e"/><text>axrdvdezp</text></g>
<g id="croiiwwcdj" transform="translate(443,697)"><use href="#e"/><text>croiiwwcdj</text></g>
<g id="ldyuovdlxt" transform="translate(713,697)"><use href="#e"/><text>ldyuovdlxt</text></g>
<g id="jsdsmbeoo" transform="translate(983,697)"><use href="#e"/><text>jsdsmbeoo</text></g>
<g id="rmihoszdh" transform="translate(1255,697)"><use href="#e"/><text>rmihoszdh</text></g>
<g id="pgzmkpbot" transform="translate(44,795)"><use href="#e"/><text>pgzmkpbot</text></g>
<g id="tzxbynnnjz" transform="translate(315,795)"><use href="#e"/><text>tzxbynnnjz</text></g>
<g id="enhmofxgv" transform="translate(590,795)"><use href="#e"/><text>enhmofxgv</text></g>
<g id="mkhczioxb" transform="translate(860,795)"><use href="#e"/><text>mkhczioxb</text></g>
<g id="jtiowuvme" transform="translate(1127,795)"><use href="#e"/><text>jtiowuvme</text></g>
<g id="mfqpjtcmf" transform="translate(185,891)"><use href="#e"/><text>mfqpjtcmf</text></g>
<g id="cvjiuynvzs" transform="translate(458,891)"><use href="#e"/><text>cvjiuynvzs</text></g>
<g id="giihxbhyhb" transform="translate(735,891)"><use href="#e"/><text>giihxbhyhb</text></g>
<g id="fjdxeexnfa" transform="translate(1000,891)"><use href="#e"/><text>fjdxeexnfa</text></g>
<g id="jovkcsbptv" transform="translate(1277,891)"><use href="#e"/><text>jovkcsbptv</text></g>
<g id="rrypabmise" transform="translate(58,988)"><use href="#e"/><text>rrypabmise</text></g>
<g id="sqrimmxnn" transform="translate(335,988)"><use href="#e"/><text>sqrimmxnn</text></g>
<g id="horkzwfsa" transform="translate(600,988)"><use href="#e"/><text>horkzwfsa</text></g>
<g id="lithhqekvb" transform="translate(875,988)"><use href="#e"/><text>lithhqekvb</text></g>
<g id="adgzoapxw" transform="translate(1152,988)"><use href="#e"/><text>adgzoapxw</text></g>
<g id="sdmihthati" transform="translate(203,1085)"><use href="#e"/><text>sdmihthati</text></g>
<g id="emjqrqqht" transform="translate(472,1085)"><use href="#e"/><text>emjqrqqht</text></g>
<g id="leaiwiridm" transform="translate(748,1085)"><use href="#e"/><text>leaiwiridm</text></g>
<g id="jmzczmjts" transform="translate(1015,1085)"><use href="#e"/><text>jmzczmjts</text></g>
<g id="zbrcccxqg" transform="translate(1288,1085)"><use href="#e"/><text>zbrcccxqg</text></g>
<g id="egtwjqfgut" transform="translate(78,1182)"><use href="#e"/><text>egtwjqfgut</text></g>
<g id="giejscbxfa" transform="translate(345,1182)"><use href="#e"/><text>giejscbxfa</text></g>
<g id="wbfbrkjioc" transform="translate(622,1182)"><use href="#e"/><text>wbfbrkjioc</text></g>
<g id="dmpkjjladj" transform="translate(893,1182)"><use href="#e"/><text>dmpkjjladj</text></g>
<g id="uamsqrhsz" transform="translate(1163,1182)"><use href="#e"/><text>uamsqrhsz</text></g>
<g id="zscqsxlmt" transform="translate(125,1280)"><use href="#e"/><text>zscqsxlmt</text></g>
<g id="gcthzpdtc" transform="translate(377,1280)"><use href="#e"/><text>gcthzpdtc</text></g>
<g id="rkyhcebaj" transform="translate(632,1280)"><use href="#e"/><text>rkyhcebaj</text></g>
<g id="bmzdeiltb" transform="translate(887,1280)"><use href="#e"/><text>bmzdeiltb</text></g>
<g id="kqlycctnb" transform="translate(1140,1280)"><use href="#e"/><text>kqlycctnb</text></g>
<g id="rvpogjvcn" transform="translate(253,1377)"><use href="#e"/><text>rvpogjvcn</text></g>
<g id="fdjdlfxzd" transform="translate(500,1377)"><use href="#e"/><text>fdjdlfxzd</text></g>
<g id="arjazbjoy" transform="translate(755,1377)"><use href="#e"/><text>arjazbjoy</text></g>
<g id="erzsuaknh" transform="translate(1015,1377)"><use href="#e"/><text>erzsuaknh</text></g>
<g id="dlviaefrbe" transform="translate(1270,1377)"><use href="#e"/><text>dlviaefrbe</text></g>
<g id="cjyiojvfi" transform="translate(22,1473)"><use href="#e"/><text>cjyiojvfi</text></g>
<g id="jjcodiptl" transform="translate(257,1473)"><use href="#e"/><text>jjcodiptl</text></g>
<g id="ioxtlqlsf" transform="translate(493,1473)"><use href="#e"/><text>ioxtlqlsf</text></g>
<g id="rhjizgcet" transform="translate(732,1473)"><use href="#e"/><text>rhjizgcet</text></g>
<g id="fijtjgcge" transform="translate(963,1473)"><use href="#e"/><text>fijtjgcge</text></g>
<g id="djloljoyz" transform="translate(1205,1473)"><use href="#e"/><text>djloljoyz</text></g>
</g>
<g id="blockK" transform="matrix(.58801 0 0 .76977 1844 2414)">
<g id="weegpwhjw" transform="translate(26,8)"><use href="#e"/><text>weegpwhjw</text></g>
<g id="udmkidtfuu" transform="translate(312,8)"><use href="#e"/><text>udmkidtfuu</text></g>
<g id="iyyqhemqex" transform="translate(610,60)"><use href="#e"/><text>iyyqhemqex</text></g>
<g id="nnydukoizo" transform="translate(895,88)"><use href="#e"/><text>nnydukoizo</text></g>
<g id="pswmlachm" transform="translate(1187,88)"><use href="#e"/><text>pswmlachm</text></g>
<g id="ydkksknchf" transform="translate(1474,18)"><use href="#e"/><text>ydkksknchf</text></g>
<g id="rlnjbwqwoz" transform="translate(25,101)"><use href="#e"/><text>rlnjbwqwoz</text></g>
<g id="huthvcmfhr" transform="translate(313,101)"><use href="#e"/><text>huthvcmfhr</text></g>
<g id="fpermdbnm" transform="translate(603,157)"><use href="#e"/><text>fpermdbnm</text></g>
<g id="dpzvdhwkm" transform="translate(898,185)"><use href="#e"/><text>dpzvdhwkm</text></g>
<g id="tzuyamlmua" transform="translate(1188,185)"><use href="#e"/><text>tzuyamlmua</text></g>
<g id="pvzdbxrexp" transform="translate(1474,116)"><use href="#e"/><text>pvzdbxrexp</text></g>
<g id="txukdneqzx" transform="translate(23,198)"><use href="#e"/><text>txukdneqzx</text></g>
<g id="mmoqkrycn" transform="translate(316,198)"><use href="#e"/><text>mmoqkrycn</text></g>
<g id="boneohqdsk" transform="translate(606,254)"><use href="#e"/><text>boneohqdsk</text></g>
<g id="dqavczuans" transform="translate(893,282)"><use href="#e"/><text>dqavczuans</text></g>
<g id="bueymtgavz" transform="translate(1188,282)"><use href="#e"/><text>bueymtgavz</text></g>
<g id="oqkhbwczx" transform="translate(1474,213)"><use href="#e"/><text>oqkhbwczx</text></g>
<g id="zembcevskn" transform="translate(28,296)"><use href="#e"/><text>zembcevskn</text></g>
<g id="mxftdyjqpe" transform="translate(311,296)"><use href="#e"/><text>mxftdyjqpe</text></g>
<g id="zbnojvxnfm" transform="translate(606,351)"><use href="#e"/><text>zbnojvxnfm</text></g>
<g id="ebolbhpkpn" transform="translate(895,379)"><use href="#e"/><text>ebolbhpkpn</text></g>
<g id="emfdjcopnu" transform="translate(1185,379)"><use href="#e"/><text>emfdjcopnu</text></g>
<g id="kakxdippxq" transform="translate(1474,310)"><use href="#e"/><text>kakxdippxq</text></g>
<g id="adnqkvgvbl" transform="translate(24,392)"><use href="#e"/><text>adnqkvgvbl</text></g>
<g id="blwithwngc" transform="translate(313,392)"><use href="#e"/><text>blwithwngc</text></g>
<g id="zmdvarsago" transform="translate(606,448)"><use href="#e"/><text>zmdvarsago</text></g>
<g id="spvbjhapkw" transform="translate(897,475)"><use href="#e"/><text>spvbjhapkw</text></g>
<g id="kkeoixohya" transform="translate(1185,475)"><use href="#e"/><text>kkeoixohya</text></g>
<g id="gmkkwraktj" transform="translate(1474,406)"><use href="#e"/><text>gmkkwraktj</text></g>
<g id="qqldeufewb" transform="translate(25,490)"><use href="#e"/><text>qqldeufewb</text></g>
<g id="eyygzhejyq" transform="translate(311,490)"><use href="#e"/><text>eyygzhejyq</text></g>
<g id="cfvcoorzrc" transform="translate(595,545)"><use href="#e"/><text>cfvcoorzrc</text></g>
<g id="hcidhxmjrs" transform="translate(871,573)"><use href="#e"/><text>hcidhxmjrs</text></g>
<g id="fxvbhdrnii" transform="translate(1138,573)"><use href="#e"/><text>fxvbhdrnii</text></g>
<g id="tctwjywnga" transform="translate(1474,503)"><use href="#e"/><text>tctwjywnga</text></g>
<g id="ulcygkzvse" transform="translate(18,587)"><use href="#e"/><text>ulcygkzvse</text></g>
<g id="zvmszuamt" transform="translate(292,587)"><use href="#e"/><text>zvmszuamt</text></g>
<g id="crpnwmqer" transform="translate(565,642)"><use href="#e"/><text>crpnwmqer</text></g>
<g id="xsctmtekb" transform="translate(828,670)"><use href="#e"/><text>xsctmtekb</text></g>
<g id="hgvqrxuvc" transform="translate(1102,670)"><use href="#e"/><text>hgvqrxuvc</text></g>
<g id="mhkejkvbz" transform="translate(1415,600)"><use href="#e"/><text>mhkejkvbz</text></g>
<g id="plwetksbv" transform="translate(1372,697)"><use href="#e"/><text>plwetksbv</text></g>
<g id="cxcfvjzdaa" transform="translate(15,684)"><use href="#e"/><text>cxcfvjzdaa</text></g>
<g id="rntyuycpfq" transform="translate(290,684)"><use href="#e"/><text>rntyuycpfq</text></g>
<g id="khdnjavoxl" transform="translate(563,739)"><use href="#e"/><text>khdnjavoxl</text></g>
<g id="wuisfokxra" transform="translate(835,767)"><use href="#e"/><text>wuisfokxra</text></g>
<g id="gboagexsf" transform="translate(1100,767)"><use href="#e"/><text>gboagexsf</text></g>
<g id="tdfgmhtdx" transform="translate(1373,795)"><use href="#e"/><text>tdfgmhtdx</text></g>
<g id="otykhovntf" transform="translate(16,781)"><use href="#e"/><text>otykhovntf</text></g>
<g id="npfdzlaooa" transform="translate(290,781)"><use href="#e"/><text>npfdzlaooa</text></g>
<g id="kcelihzevj" transform="translate(555,836)"><use href="#e"/><text>kcelihzevj</text></g>
<g id="bnglqqfqn" transform="translate(828,864)"><use href="#e"/><text>bnglqqfqn</text></g>
<g id="ywqzglblv" transform="translate(1100,864)"><use href="#e"/><text>ywqzglblv</text></g>
<g id="ibxkdknfse" transform="translate(1378,891)"><use href="#e"/><text>ibxkdknfse</text></g>
<g id="fwplksrasg" transform="translate(15,878)"><use href="#e"/><text>fwplksrasg</text></g>
<g id="ewgnfoeyd" transform="translate(290,878)"><use href="#e"/><text>ewgnfoeyd</text></g>
<g id="ozhkiitzuk" transform="translate(558,933)"><use href="#e"/><text>ozhkiitzuk</text></g>
<g id="fequwryde" transform="translate(830,961)"><use href="#e"/><text>fequwryde</text></g>
<g id="ybzxenfmn" transform="translate(1105,961)"><use href="#e"/><text>ybzxenfmn</text></g>
<g id="jvlcjsdwnh" transform="translate(1378,988)"><use href="#e"/><text>jvlcjsdwnh</text></g>
<g id="xkhtnydqtb" transform="translate(19,975)"><use href="#e"/><text>xkhtnydqtb</text></g>
<g id="wlibcqcpei" transform="translate(290,975)"><use href="#e"/><text>wlibcqcpei</text></g>
<g id="dvvslhgknf" transform="translate(563,1030)"><use href="#e"/><text>dvvslhgknf</text></g>
<g id="shwnouiik" transform="translate(828,1057)"><use href="#e"/><text>shwnouiik</text></g>
<g id="uffcnpejdx" transform="translate(1103,1057)"><use href="#e"/><text>uffcnpejdx</text></g>
<g id="xnfzjftldw" transform="translate(1372,1085)"><use href="#e"/><text>xnfzjftldw</text></g>
<g id="aqcydtutm" transform="translate(14,1071)"><use href="#e"/><text>aqcydtutm</text></g>
<g id="ozmqgsrity" transform="translate(290,1071)"><use href="#e"/><text>ozmqgsrity</text></g>
<g id="xqqypdtxr" transform="translate(555,1127)"><use href="#e"/><text>xqqypdtxr</text></g>
<g id="hhswjifvqn" transform="translate(835,1155)"><use href="#e"/><text>hhswjifvqn</text></g>
<g id="ezpfnhhxd" transform="translate(1102,1155)"><use href="#e"/><text>ezpfnhhxd</text></g>
<g id="gtuvzpudtx" transform="translate(1378,1182)"><use href="#e"/><text>gtuvzpudtx</text></g>
<g id="twzhcppdg" transform="translate(17,1168)"><use href="#e"/><text>twzhcppdg</text></g>
<g id="sqejwjwhd" transform="translate(287,1168)"><use href="#e"/><text>sqejwjwhd</text></g>
<g id="taficnoux" transform="translate(547,1223)"><use href="#e"/><text>taficnoux</text></g>
<g id="eumirgztc" transform="translate(805,1251)"><use href="#e"/><text>eumirgztc</text></g>
<g id="hcocjtxjd" transform="translate(1055,1251)"><use href="#e"/><text>hcocjtxjd</text></g>
<g id="elfgehalc" transform="translate(1307,1279)"><use href="#e"/><text>elfgehalc</text></g>
<g id="etsaatbjir" transform="translate(1,1265)"><use href="#e"/><text>etsaatbjir</text></g>
<g id="sbgqjkvzr" transform="translate(262,1265)"><use href="#e"/><text>sbgqjkvzr</text></g>
<g id="ifbmnrkit" transform="translate(512,1320)"><use href="#e"/><text>ifbmnrkit</text></g>
<g id="nrkjnistft" transform="translate(763,1348)"><use href="#e"/><text>nrkjnistft</text></g>
<g id="hfvowltzs" transform="translate(1023,1348)"><use href="#e"/><text>hfvowltzs</text></g>
<g id="ufgcjzugq" transform="translate(1277,1376)"><use href="#e"/><text>ufgcjzugq</text></g>
<g id="oqsbxldrj" transform="translate(1527,1404)"><use href="#e"/><text>oqsbxldrj</text></g>
<g id="ixekwicbt" transform="translate(8,1362)"><use href="#e"/><text>ixekwicbt</text></g>
<g id="adiiayona" transform="translate(260,1362)"><use href="#e"/><text>adiiayona</text></g>
<g id="dphgtqfjx" transform="translate(513,1418)"><use href="#e"/><text>dphgtqfjx</text></g>
<g id="fjaaxbllm" transform="translate(767,1445)"><use href="#e"/><text>fjaaxbllm</text></g>
<g id="mftuyvlat" transform="translate(1022,1445)"><use href="#e"/><text>mftuyvlat</text></g>
<g id="dvovepflv" transform="translate(1278,1472)"><use href="#e"/><text>dvovepflv</text></g>
<g id="lsdcibfel" transform="translate(1522,1500)"><use href="#e"/><text>lsdcibfel</text></g>
<g id="rdienwcsc" transform="translate(9,1460)"><use href="#e"/><text>rdienwcsc</text></g>
<g id="tuxskujus" transform="translate(260,1460)"><use href="#e"/><text>tuxskujus</text></g>
<g id="jrmttibxf" transform="translate(507,1514)"><use href="#e"/><text>jrmttibxf</text></g>
</g>
<g id="blockL" transform="matrix(.58801 0 0 .76977 2766 2414)">
<g id="ftixkeikgd" transform="translate(493,5)"><use href="#e"/><text>ftixkeikgd</text></g>
<g id="shjpvjesco" transform="translate(1058,5)"><use href="#e"/><text>shjpvjesco</text></g>
<g id="nlopnsfdr" transform="translate(1320,5)"><use href="#e"/><text>nlopnsfdr</text></g>
<g id="sexmbhdlz" transform="translate(188,47)"><use href="#e"/><text>sexmbhdlz</text></g>
<g id="pvllhdurjz" transform="translate(457,101)"><use href="#e"/><text>pvllhdurjz</text></g>
<g id="jvbnrsbacq" transform="translate(770,88)"><use href="#e"/><text>jvbnrsbacq</text></g>
<g id="pklcnxsiuz" transform="translate(1042,101)"><use href="#e"/><text>pklcnxsiuz</text></g>
<g id="txgaixddl" transform="translate(1300,101)"><use href="#e"/><text>txgaixddl</text></g>
<g id="agbghrimr" transform="translate(185,143)"><use href="#e"/><text>agbghrimr</text></g>
<g id="xkwiaputld" transform="translate(463,198)"><use href="#e"/><text>xkwiaputld</text></g>
<g id="kzyhfeksh" transform="translate(728,184)"><use href="#e"/><text>kzyhfeksh</text></g>
<g id="mpfliqgxqf" transform="translate(1008,198)"><use href="#e"/><text>mpfliqgxqf</text></g>
<g id="sjhupetgb" transform="translate(1268,198)"><use href="#e"/><text>sjhupetgb</text></g>
<g id="lqkizyxzrq" transform="translate(185,240)"><use href="#e"/><text>lqkizyxzrq</text></g>
<g id="rufyuoqhsn" transform="translate(465,296)"><use href="#e"/><text>rufyuoqhsn</text></g>
<g id="wlesorqhsb" transform="translate(737,281)"><use href="#e"/><text>wlesorqhsb</text></g>
<g id="eyzycxeeyt" transform="translate(1008,296)"><use href="#e"/><text>eyzycxeeyt</text></g>
<g id="zpehlrlbk" transform="translate(1265,296)"><use href="#e"/><text>zpehlrlbk</text></g>
<g id="ebkpakbzrr" transform="translate(192,337)"><use href="#e"/><text>ebkpakbzrr</text></g>
<g id="eewvxxzbj" transform="translate(461,392)"><use href="#e"/><text>eewvxxzbj</text></g>
<g id="sjycjiwswx" transform="translate(737,379)"><use href="#e"/><text>sjycjiwswx</text></g>
<g id="ltnihgyoyg" transform="translate(1005,392)"><use href="#e"/><text>ltnihgyoyg</text></g>
<g id="mijzjgllvt" transform="translate(1268,392)"><use href="#e"/><text>mijzjgllvt</text></g>
<g id="bcwjhikgpi" transform="translate(192,434)"><use href="#e"/><text>bcwjhikgpi</text></g>
<g id="wdulffxnct" transform="translate(463,489)"><use href="#e"/><text>wdulffxnct</text></g>
<g id="qvehgloxnl" transform="translate(735,475)"><use href="#e"/><text>qvehgloxnl</text></g>
<g id="aaqivjdmyt" transform="translate(1008,489)"><use href="#e"/><text>aaqivjdmyt</text></g>
<g id="ukgdaarsc" transform="translate(1270,489)"><use href="#e"/><text>ukgdaarsc</text></g>
<g id="qiaybinhhs" transform="translate(192,531)"><use href="#e"/><text>qiaybinhhs</text></g>
<g id="crtfqmmsci" transform="translate(465,587)"><use href="#e"/><text>crtfqmmsci</text></g>
<g id="zhdrtjxlyq" transform="translate(728,573)"><use href="#e"/><text>zhdrtjxlyq</text></g>
<g id="qvledrbcvu" transform="translate(1008,587)"><use href="#e"/><text>qvledrbcvu</text></g>
<g id="plzvsuana" transform="translate(1270,587)"><use href="#e"/><text>plzvsuana</text></g>
<g id="jarxshwvry" transform="translate(118,629)"><use href="#e"/><text>jarxshwvry</text></g>
<g id="tmnwthurf" transform="translate(387,683)"><use href="#e"/><text>tmnwthurf</text></g>
<g id="gjkfndngrd" transform="translate(735,670)"><use href="#e"/><text>gjkfndngrd</text></g>
<g id="gbwzcxdtk" transform="translate(1006,683)"><use href="#e"/><text>gbwzcxdtk</text></g>
<g id="tqyfoovcz" transform="translate(1270,683)"><use href="#e"/><text>tqyfoovcz</text></g>
<g id="bndkypkim" transform="translate(85,725)"><use href="#e"/><text>bndkypkim</text></g>
<g id="mdhlezuuh" transform="translate(355,780)"><use href="#e"/><text>mdhlezuuh</text></g>
<g id="tkbymsteuf" transform="translate(663,766)"><use href="#e"/><text>tkbymsteuf</text></g>
<g id="otryoizksg" transform="translate(930,780)"><use href="#e"/><text>otryoizksg</text></g>
<g id="qbozfxqai" transform="translate(1197,780)"><use href="#e"/><text>qbozfxqai</text></g>
<g id="ltthazxsn" transform="translate(1443,849)"><use href="#e"/><text>ltthazxsn</text></g>
<g id="zxmwrddyi" transform="translate(85,822)"><use href="#e"/><text>zxmwrddyi</text></g>
<g id="ofreqidyfo" transform="translate(350,878)"><use href="#e"/><text>ofreqidyfo</text></g>
<g id="lkwyhpietr" transform="translate(623,863)"><use href="#e"/><text>lkwyhpietr</text></g>
<g id="hoqanxkna" transform="translate(897,878)"><use href="#e"/><text>hoqanxkna</text></g>
<g id="qttvydgfd" transform="translate(1160,878)"><use href="#e"/><text>qttvydgfd</text></g>
<g id="afllytgnyb" transform="translate(1416,946)"><use href="#e"/><text>afllytgnyb</text></g>
<g id="ajcgwgzeq" transform="translate(80,920)"><use href="#e"/><text>ajcgwgzeq</text></g>
<g id="fdyhjhghx" transform="translate(348,975)"><use href="#e"/><text>fdyhjhghx</text></g>
<g id="fkpcofwvo" transform="translate(625,960)"><use href="#e"/><text>fkpcofwvo</text></g>
<g id="wuqlvqcly" transform="translate(895,975)"><use href="#e"/><text>wuqlvqcly</text></g>
<g id="iomkikisv" transform="translate(1162,975)"><use href="#e"/><text>iomkikisv</text></g>
<g id="welabtldj" transform="translate(1410,1043)"><use href="#e"/><text>welabtldj</text></g>
<g id="sgmhltdqpf" transform="translate(85,1017)"><use href="#e"/><text>sgmhltdqpf</text></g>
<g id="grmvbsjzel" transform="translate(355,1071)"><use href="#e"/><text>grmvbsjzel</text></g>
<g id="ievdanzyd" transform="translate(620,1057)"><use href="#e"/><text>ievdanzyd</text></g>
<g id="bltpbmnsul" transform="translate(900,1071)"><use href="#e"/><text>bltpbmnsul</text></g>
<g id="tlcyyzani" transform="translate(1155,1071)"><use href="#e"/><text>tlcyyzani</text></g>
<g id="fqexdidqq" transform="translate(1416,1140)"><use href="#e"/><text>fqexdidqq</text></g>
<g id="dsvflzsshw" transform="translate(85,1113)"><use href="#e"/><text>dsvflzsshw</text></g>
<g id="npskcsfjhj" transform="translate(348,1168)"><use href="#e"/><text>npskcsfjhj</text></g>
<g id="dkiojryqrk" transform="translate(623,1154)"><use href="#e"/><text>dkiojryqrk</text></g>
<g id="eepciihcwd" transform="translate(900,1168)"><use href="#e"/><text>eepciihcwd</text></g>
<g id="ffzbbesoo" transform="translate(1160,1168)"><use href="#e"/><text>ffzbbesoo</text></g>
<g id="fersztxqz" transform="translate(1408,1237)"><use href="#e"/><text>fersztxqz</text></g>
<g id="vfqivdfmui" transform="translate(85,1210)"><use href="#e"/><text>vfqivdfmui</text></g>
<g id="fogyzlcjn" transform="translate(340,1265)"><use href="#e"/><text>fogyzlcjn</text></g>
<g id="whvyiqjui" transform="translate(617,1251)"><use href="#e"/><text>whvyiqjui</text></g>
<g id="yztsegdfr" transform="translate(866,1265)"><use href="#e"/><text>yztsegdfr</text></g>
<g id="neytvrvjq" transform="translate(1120,1265)"><use href="#e"/><text>neytvrvjq</text></g>
<g id="tzvcechxl" transform="translate(1375,1334)"><use href="#e"/><text>tzvcechxl</text></g>
<g id="lpptmzeiy" transform="translate(1,1307)"><use href="#e"/><text>lpptmzeiy</text></g>
<g id="hhzjctvlir" transform="translate(250,1362)"><use href="#e"/><text>hhzjctvlir</text></g>
<g id="limxotcnv" transform="translate(600,1348)"><use href="#e"/><text>limxotcnv</text></g>
<g id="acxkalzhj" transform="translate(850,1362)"><use href="#e"/><text>acxkalzhj</text></g>
<g id="tthamlpos" transform="translate(1107,1362)"><use href="#e"/><text>tthamlpos</text></g>
<g id="dsqssgvrr" transform="translate(1357,1431)"><use href="#e"/><text>dsqssgvrr</text></g>
<g id="jgtcrzzztp" transform="translate(217,1459)"><use href="#e"/><text>jgtcrzzztp</text></g>
<g id="djbjnlwqt" transform="translate(505,1445)"><use href="#e"/><text>djbjnlwqt</text></g>
<g id="rcroaqord" transform="translate(760,1459)"><use href="#e"/><text>rcroaqord</text></g>
<g id="qsmulxais" transform="translate(1017,1459)"><use href="#e"/><text>qsmulxais</text></g>
<g id="tiztltujd" transform="translate(1250,1528)"><use href="#e"/><text>tiztltujd</text></g>
</g>
</g>
</svg>
